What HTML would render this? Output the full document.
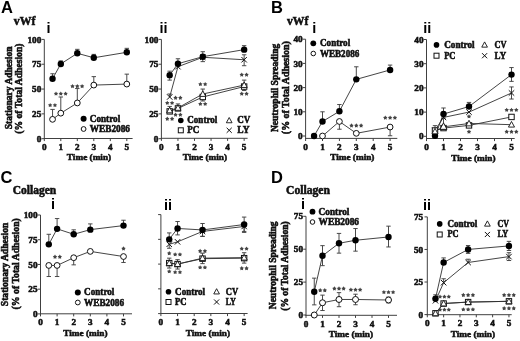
<!DOCTYPE html>
<html><head><meta charset="utf-8"><style>
html,body{margin:0;padding:0;background:#fff;width:520px;height:341px;overflow:hidden}
svg{display:block;will-change:transform;filter:blur(0.35px)}
</style></head><body>
<svg width="520" height="341" viewBox="0 0 520 341">
<rect width="520" height="341" fill="#fff"/>
<text x="1.00" y="12.80" style="font-family:'Liberation Sans',sans-serif;font-weight:bold;font-size:16.5px" fill="#000">A</text>
<text x="271.00" y="12.80" style="font-family:'Liberation Sans',sans-serif;font-weight:bold;font-size:16.5px" fill="#000">B</text>
<text x="0.60" y="182.60" style="font-family:'Liberation Sans',sans-serif;font-weight:bold;font-size:16.5px" fill="#000">C</text>
<text x="271.00" y="182.90" style="font-family:'Liberation Sans',sans-serif;font-weight:bold;font-size:16.5px" fill="#000">D</text>
<text x="13.80" y="24.60" textLength="21.6" lengthAdjust="spacingAndGlyphs" style="font-family:'Liberation Serif',serif;font-weight:bold;font-size:12px" fill="#111" stroke="#111" stroke-width="0.55">vWf</text>
<text x="287.00" y="24.60" textLength="21.4" lengthAdjust="spacingAndGlyphs" style="font-family:'Liberation Serif',serif;font-weight:bold;font-size:12px" fill="#111" stroke="#111" stroke-width="0.55">vWf</text>
<text x="12.70" y="193.80" textLength="43.5" lengthAdjust="spacingAndGlyphs" style="font-family:'Liberation Serif',serif;font-weight:bold;font-size:12px" fill="#111" stroke="#111" stroke-width="0.55">Collagen</text>
<text x="286.00" y="194.20" textLength="44.0" lengthAdjust="spacingAndGlyphs" style="font-family:'Liberation Serif',serif;font-weight:bold;font-size:12px" fill="#111" stroke="#111" stroke-width="0.55">Collagen</text>
<text x="46.60" y="32.60" style="font-family:'Liberation Sans',sans-serif;font-weight:bold;font-size:14.5px" fill="#000">i</text>
<text x="159.40" y="32.80" style="font-family:'Liberation Sans',sans-serif;font-weight:bold;font-size:14.5px" fill="#000">ii</text>
<text x="312.30" y="32.50" style="font-family:'Liberation Sans',sans-serif;font-weight:bold;font-size:14.5px" fill="#000">i</text>
<text x="423.30" y="32.50" style="font-family:'Liberation Sans',sans-serif;font-weight:bold;font-size:14.5px" fill="#000">ii</text>
<text x="51.00" y="208.90" style="font-family:'Liberation Sans',sans-serif;font-weight:bold;font-size:14.5px" fill="#000">i</text>
<text x="163.90" y="209.60" style="font-family:'Liberation Sans',sans-serif;font-weight:bold;font-size:14.5px" fill="#000">ii</text>
<text x="301.00" y="208.90" style="font-family:'Liberation Sans',sans-serif;font-weight:bold;font-size:14.5px" fill="#000">i</text>
<text x="422.90" y="209.90" style="font-family:'Liberation Sans',sans-serif;font-weight:bold;font-size:14.5px" fill="#000">ii</text>
<text x="11.60" y="87.90" text-anchor="middle" textLength="82.7" lengthAdjust="spacingAndGlyphs" transform="rotate(-90 11.6 87.9)" style="font-family:'Liberation Serif',serif;font-weight:bold;font-size:9.5px" fill="#111" stroke="#111" stroke-width="0.55">Stationary Adhesion</text>
<text x="21.80" y="88.60" text-anchor="middle" textLength="90.2" lengthAdjust="spacingAndGlyphs" transform="rotate(-90 21.8 88.6)" style="font-family:'Liberation Serif',serif;font-weight:bold;font-size:9.5px" fill="#111" stroke="#111" stroke-width="0.55">(% of Total Adhesion)</text>
<text x="278.00" y="87.90" text-anchor="middle" textLength="88.2" lengthAdjust="spacingAndGlyphs" transform="rotate(-90 278.0 87.9)" style="font-family:'Liberation Serif',serif;font-weight:bold;font-size:9.5px" fill="#111" stroke="#111" stroke-width="0.55">Neutrophil Spreading</text>
<text x="289.50" y="87.70" text-anchor="middle" textLength="92.9" lengthAdjust="spacingAndGlyphs" transform="rotate(-90 289.5 87.7)" style="font-family:'Liberation Serif',serif;font-weight:bold;font-size:9.5px" fill="#111" stroke="#111" stroke-width="0.55">(% of Total Adhesion)</text>
<text x="8.20" y="264.40" text-anchor="middle" textLength="83.6" lengthAdjust="spacingAndGlyphs" transform="rotate(-90 8.2 264.4)" style="font-family:'Liberation Serif',serif;font-weight:bold;font-size:9.5px" fill="#111" stroke="#111" stroke-width="0.55">Stationary Adhesion</text>
<text x="18.60" y="263.80" text-anchor="middle" textLength="91.2" lengthAdjust="spacingAndGlyphs" transform="rotate(-90 18.6 263.8)" style="font-family:'Liberation Serif',serif;font-weight:bold;font-size:9.5px" fill="#111" stroke="#111" stroke-width="0.55">(% of Total Adhesion)</text>
<text x="275.80" y="265.30" text-anchor="middle" textLength="87.7" lengthAdjust="spacingAndGlyphs" transform="rotate(-90 275.8 265.3)" style="font-family:'Liberation Serif',serif;font-weight:bold;font-size:9.5px" fill="#111" stroke="#111" stroke-width="0.55">Neutrophil Spreading</text>
<text x="287.60" y="266.00" text-anchor="middle" textLength="89.5" lengthAdjust="spacingAndGlyphs" transform="rotate(-90 287.6 266.0)" style="font-family:'Liberation Serif',serif;font-weight:bold;font-size:9.5px" fill="#111" stroke="#111" stroke-width="0.55">(% of Total Adhesion)</text>
<line x1="44.30" y1="39.40" x2="44.30" y2="139.00" stroke="#404040" stroke-width="1"/>
<line x1="41.50" y1="138.70" x2="44.30" y2="138.70" stroke="#404040" stroke-width="1"/>
<text x="41.30" y="141.80" text-anchor="end" style="font-family:'Liberation Serif',serif;font-weight:bold;font-size:9.2px" fill="#111" stroke="#111" stroke-width="0.55">0</text>
<line x1="41.50" y1="113.87" x2="44.30" y2="113.87" stroke="#404040" stroke-width="1"/>
<text x="41.30" y="116.97" text-anchor="end" style="font-family:'Liberation Serif',serif;font-weight:bold;font-size:9.2px" fill="#111" stroke="#111" stroke-width="0.55">25</text>
<line x1="41.50" y1="89.05" x2="44.30" y2="89.05" stroke="#404040" stroke-width="1"/>
<text x="41.30" y="92.15" text-anchor="end" style="font-family:'Liberation Serif',serif;font-weight:bold;font-size:9.2px" fill="#111" stroke="#111" stroke-width="0.55">50</text>
<line x1="41.50" y1="64.22" x2="44.30" y2="64.22" stroke="#404040" stroke-width="1"/>
<text x="41.30" y="67.32" text-anchor="end" style="font-family:'Liberation Serif',serif;font-weight:bold;font-size:9.2px" fill="#111" stroke="#111" stroke-width="0.55">75</text>
<line x1="41.50" y1="39.40" x2="44.30" y2="39.40" stroke="#404040" stroke-width="1"/>
<text x="41.30" y="42.50" text-anchor="end" style="font-family:'Liberation Serif',serif;font-weight:bold;font-size:9.2px" fill="#111" stroke="#111" stroke-width="0.55">100</text>
<line x1="43.80" y1="138.50" x2="132.60" y2="138.50" stroke="#404040" stroke-width="1"/>
<line x1="44.30" y1="138.50" x2="44.30" y2="141.10" stroke="#404040" stroke-width="1"/>
<text x="44.30" y="149.60" text-anchor="middle" style="font-family:'Liberation Serif',serif;font-weight:bold;font-size:9.2px" fill="#111" stroke="#111" stroke-width="0.55">0</text>
<line x1="60.80" y1="138.50" x2="60.80" y2="141.10" stroke="#404040" stroke-width="1"/>
<text x="60.80" y="149.60" text-anchor="middle" style="font-family:'Liberation Serif',serif;font-weight:bold;font-size:9.2px" fill="#111" stroke="#111" stroke-width="0.55">1</text>
<line x1="77.30" y1="138.50" x2="77.30" y2="141.10" stroke="#404040" stroke-width="1"/>
<text x="77.30" y="149.60" text-anchor="middle" style="font-family:'Liberation Serif',serif;font-weight:bold;font-size:9.2px" fill="#111" stroke="#111" stroke-width="0.55">2</text>
<line x1="93.80" y1="138.50" x2="93.80" y2="141.10" stroke="#404040" stroke-width="1"/>
<text x="93.80" y="149.60" text-anchor="middle" style="font-family:'Liberation Serif',serif;font-weight:bold;font-size:9.2px" fill="#111" stroke="#111" stroke-width="0.55">3</text>
<line x1="110.30" y1="138.50" x2="110.30" y2="141.10" stroke="#404040" stroke-width="1"/>
<text x="110.30" y="149.60" text-anchor="middle" style="font-family:'Liberation Serif',serif;font-weight:bold;font-size:9.2px" fill="#111" stroke="#111" stroke-width="0.55">4</text>
<line x1="126.80" y1="138.50" x2="126.80" y2="141.10" stroke="#404040" stroke-width="1"/>
<text x="126.80" y="149.60" text-anchor="middle" style="font-family:'Liberation Serif',serif;font-weight:bold;font-size:9.2px" fill="#111" stroke="#111" stroke-width="0.55">5</text>
<text x="89.00" y="160.20" text-anchor="middle" textLength="44.3" lengthAdjust="spacingAndGlyphs" style="font-family:'Liberation Serif',serif;font-weight:bold;font-size:9.2px" fill="#111" stroke="#111" stroke-width="0.55">Time (min)</text>
<polyline points="52.55,78.72 60.80,63.93 77.30,53.30 93.80,57.77 126.80,52.31" fill="none" stroke="#303030" stroke-width="0.9"/>
<polyline points="52.55,119.34 60.80,113.18 77.30,102.95 93.80,85.08 126.80,84.08" fill="none" stroke="#303030" stroke-width="0.9"/>
<line x1="52.55" y1="78.72" x2="52.55" y2="73.76" stroke="#404040" stroke-width="0.95"/>
<line x1="50.35" y1="73.76" x2="54.75" y2="73.76" stroke="#404040" stroke-width="0.95"/>
<line x1="60.80" y1="63.93" x2="60.80" y2="60.95" stroke="#404040" stroke-width="0.95"/>
<line x1="58.60" y1="60.95" x2="63.00" y2="60.95" stroke="#404040" stroke-width="0.95"/>
<line x1="77.30" y1="53.30" x2="77.30" y2="49.33" stroke="#404040" stroke-width="0.95"/>
<line x1="75.10" y1="49.33" x2="79.50" y2="49.33" stroke="#404040" stroke-width="0.95"/>
<line x1="93.80" y1="57.77" x2="93.80" y2="54.39" stroke="#404040" stroke-width="0.95"/>
<line x1="91.60" y1="54.39" x2="96.00" y2="54.39" stroke="#404040" stroke-width="0.95"/>
<line x1="126.80" y1="52.31" x2="126.80" y2="48.34" stroke="#404040" stroke-width="0.95"/>
<line x1="124.60" y1="48.34" x2="129.00" y2="48.34" stroke="#404040" stroke-width="0.95"/>
<line x1="52.55" y1="119.34" x2="52.55" y2="109.41" stroke="#404040" stroke-width="0.95"/>
<line x1="50.35" y1="109.41" x2="54.75" y2="109.41" stroke="#404040" stroke-width="0.95"/>
<line x1="60.80" y1="113.18" x2="60.80" y2="96.99" stroke="#404040" stroke-width="0.95"/>
<line x1="58.60" y1="96.99" x2="63.00" y2="96.99" stroke="#404040" stroke-width="0.95"/>
<line x1="77.30" y1="102.95" x2="77.30" y2="88.55" stroke="#404040" stroke-width="0.95"/>
<line x1="75.10" y1="88.55" x2="79.50" y2="88.55" stroke="#404040" stroke-width="0.95"/>
<line x1="93.80" y1="85.08" x2="93.80" y2="76.64" stroke="#404040" stroke-width="0.95"/>
<line x1="91.60" y1="76.64" x2="96.00" y2="76.64" stroke="#404040" stroke-width="0.95"/>
<line x1="126.80" y1="84.08" x2="126.80" y2="74.15" stroke="#404040" stroke-width="0.95"/>
<line x1="124.60" y1="74.15" x2="129.00" y2="74.15" stroke="#404040" stroke-width="0.95"/>
<circle cx="52.55" cy="78.72" r="3.2" fill="#000"/>
<circle cx="60.80" cy="63.93" r="3.2" fill="#000"/>
<circle cx="77.30" cy="53.30" r="3.2" fill="#000"/>
<circle cx="93.80" cy="57.77" r="3.2" fill="#000"/>
<circle cx="126.80" cy="52.31" r="3.2" fill="#000"/>
<circle cx="52.55" cy="119.34" r="2.9" fill="#fff" stroke="#111" stroke-width="1"/>
<circle cx="60.80" cy="113.18" r="2.9" fill="#fff" stroke="#111" stroke-width="1"/>
<circle cx="77.30" cy="102.95" r="2.9" fill="#fff" stroke="#111" stroke-width="1"/>
<circle cx="93.80" cy="85.08" r="2.9" fill="#fff" stroke="#111" stroke-width="1"/>
<circle cx="126.80" cy="84.08" r="2.9" fill="#fff" stroke="#111" stroke-width="1"/>
<path d="M50.15,102.90 L50.91,104.15 L52.34,104.49 L51.39,105.60 L51.50,107.06 L50.15,106.50 L48.80,107.06 L48.91,105.60 L47.96,104.49 L49.39,104.15ZM54.95,102.90 L55.71,104.15 L57.14,104.49 L56.19,105.60 L56.30,107.06 L54.95,106.50 L53.60,107.06 L53.71,105.60 L52.76,104.49 L54.19,104.15Z" fill="#444"/>
<path d="M56.00,91.40 L56.76,92.65 L58.19,92.99 L57.24,94.10 L57.35,95.56 L56.00,95.00 L54.65,95.56 L54.76,94.10 L53.81,92.99 L55.24,92.65ZM60.80,91.40 L61.56,92.65 L62.99,92.99 L62.04,94.10 L62.15,95.56 L60.80,95.00 L59.45,95.56 L59.56,94.10 L58.61,92.99 L60.04,92.65ZM65.60,91.40 L66.36,92.65 L67.79,92.99 L66.84,94.10 L66.95,95.56 L65.60,95.00 L64.25,95.56 L64.36,94.10 L63.41,92.99 L64.84,92.65Z" fill="#444"/>
<path d="M72.50,84.00 L73.26,85.25 L74.69,85.59 L73.74,86.70 L73.85,88.16 L72.50,87.60 L71.15,88.16 L71.26,86.70 L70.31,85.59 L71.74,85.25ZM77.30,84.00 L78.06,85.25 L79.49,85.59 L78.54,86.70 L78.65,88.16 L77.30,87.60 L75.95,88.16 L76.06,86.70 L75.11,85.59 L76.54,85.25ZM82.10,84.00 L82.86,85.25 L84.29,85.59 L83.34,86.70 L83.45,88.16 L82.10,87.60 L80.75,88.16 L80.86,86.70 L79.91,85.59 L81.34,85.25Z" fill="#444"/>
<circle cx="83.60" cy="118.70" r="3.0" fill="#000"/>
<text x="89.80" y="121.50" textLength="30.4" lengthAdjust="spacingAndGlyphs" style="font-family:'Liberation Serif',serif;font-weight:bold;font-size:9.3px" fill="#111" stroke="#111" stroke-width="0.55">Control</text>
<circle cx="83.60" cy="129.00" r="2.4" fill="#fff" stroke="#111" stroke-width="1"/>
<text x="89.80" y="131.70" textLength="40.2" lengthAdjust="spacingAndGlyphs" style="font-family:'Liberation Serif',serif;font-weight:bold;font-size:9.3px" fill="#111" stroke="#111" stroke-width="0.55">WEB2086</text>
<line x1="161.40" y1="39.40" x2="161.40" y2="138.80" stroke="#404040" stroke-width="1"/>
<line x1="158.60" y1="138.70" x2="161.40" y2="138.70" stroke="#404040" stroke-width="1"/>
<text x="158.40" y="141.80" text-anchor="end" style="font-family:'Liberation Serif',serif;font-weight:bold;font-size:9.2px" fill="#111" stroke="#111" stroke-width="0.55">0</text>
<line x1="158.60" y1="113.87" x2="161.40" y2="113.87" stroke="#404040" stroke-width="1"/>
<text x="158.40" y="116.97" text-anchor="end" style="font-family:'Liberation Serif',serif;font-weight:bold;font-size:9.2px" fill="#111" stroke="#111" stroke-width="0.55">25</text>
<line x1="158.60" y1="89.05" x2="161.40" y2="89.05" stroke="#404040" stroke-width="1"/>
<text x="158.40" y="92.15" text-anchor="end" style="font-family:'Liberation Serif',serif;font-weight:bold;font-size:9.2px" fill="#111" stroke="#111" stroke-width="0.55">50</text>
<line x1="158.60" y1="64.22" x2="161.40" y2="64.22" stroke="#404040" stroke-width="1"/>
<text x="158.40" y="67.32" text-anchor="end" style="font-family:'Liberation Serif',serif;font-weight:bold;font-size:9.2px" fill="#111" stroke="#111" stroke-width="0.55">75</text>
<line x1="158.60" y1="39.40" x2="161.40" y2="39.40" stroke="#404040" stroke-width="1"/>
<text x="158.40" y="42.50" text-anchor="end" style="font-family:'Liberation Serif',serif;font-weight:bold;font-size:9.2px" fill="#111" stroke="#111" stroke-width="0.55">100</text>
<line x1="160.90" y1="138.30" x2="247.60" y2="138.30" stroke="#404040" stroke-width="1"/>
<line x1="161.40" y1="138.30" x2="161.40" y2="140.90" stroke="#404040" stroke-width="1"/>
<text x="161.40" y="149.60" text-anchor="middle" style="font-family:'Liberation Serif',serif;font-weight:bold;font-size:9.2px" fill="#111" stroke="#111" stroke-width="0.55">0</text>
<line x1="177.95" y1="138.30" x2="177.95" y2="140.90" stroke="#404040" stroke-width="1"/>
<text x="177.95" y="149.60" text-anchor="middle" style="font-family:'Liberation Serif',serif;font-weight:bold;font-size:9.2px" fill="#111" stroke="#111" stroke-width="0.55">1</text>
<line x1="194.50" y1="138.30" x2="194.50" y2="140.90" stroke="#404040" stroke-width="1"/>
<text x="194.50" y="149.60" text-anchor="middle" style="font-family:'Liberation Serif',serif;font-weight:bold;font-size:9.2px" fill="#111" stroke="#111" stroke-width="0.55">2</text>
<line x1="211.05" y1="138.30" x2="211.05" y2="140.90" stroke="#404040" stroke-width="1"/>
<text x="211.05" y="149.60" text-anchor="middle" style="font-family:'Liberation Serif',serif;font-weight:bold;font-size:9.2px" fill="#111" stroke="#111" stroke-width="0.55">3</text>
<line x1="227.60" y1="138.30" x2="227.60" y2="140.90" stroke="#404040" stroke-width="1"/>
<text x="227.60" y="149.60" text-anchor="middle" style="font-family:'Liberation Serif',serif;font-weight:bold;font-size:9.2px" fill="#111" stroke="#111" stroke-width="0.55">4</text>
<line x1="244.15" y1="138.30" x2="244.15" y2="140.90" stroke="#404040" stroke-width="1"/>
<text x="244.15" y="149.60" text-anchor="middle" style="font-family:'Liberation Serif',serif;font-weight:bold;font-size:9.2px" fill="#111" stroke="#111" stroke-width="0.55">5</text>
<text x="204.90" y="160.20" text-anchor="middle" textLength="44.3" lengthAdjust="spacingAndGlyphs" style="font-family:'Liberation Serif',serif;font-weight:bold;font-size:9.2px" fill="#111" stroke="#111" stroke-width="0.55">Time (min)</text>
<polyline points="169.68,96.99 177.95,66.71 202.78,57.27 244.15,59.76" fill="none" stroke="#303030" stroke-width="0.9"/>
<polyline points="169.68,75.15 177.95,63.73 202.78,56.68 244.15,49.63" fill="none" stroke="#303030" stroke-width="0.9"/>
<polyline points="169.68,110.40 177.95,107.92 202.78,94.01 244.15,85.08" fill="none" stroke="#303030" stroke-width="0.9"/>
<polyline points="169.68,111.39 177.95,108.41 202.78,96.99 244.15,86.57" fill="none" stroke="#303030" stroke-width="0.9"/>
<line x1="169.68" y1="75.15" x2="169.68" y2="71.18" stroke="#404040" stroke-width="0.95"/>
<line x1="167.48" y1="71.18" x2="171.88" y2="71.18" stroke="#404040" stroke-width="0.95"/>
<line x1="177.95" y1="63.73" x2="177.95" y2="58.76" stroke="#404040" stroke-width="0.95"/>
<line x1="175.75" y1="58.76" x2="180.15" y2="58.76" stroke="#404040" stroke-width="0.95"/>
<line x1="202.78" y1="56.68" x2="202.78" y2="51.71" stroke="#404040" stroke-width="0.95"/>
<line x1="200.58" y1="51.71" x2="204.97" y2="51.71" stroke="#404040" stroke-width="0.95"/>
<line x1="244.15" y1="49.63" x2="244.15" y2="45.66" stroke="#404040" stroke-width="0.95"/>
<line x1="241.95" y1="45.66" x2="246.35" y2="45.66" stroke="#404040" stroke-width="0.95"/>
<line x1="169.68" y1="75.15" x2="169.68" y2="80.11" stroke="#404040" stroke-width="0.95"/>
<line x1="167.48" y1="80.11" x2="171.88" y2="80.11" stroke="#404040" stroke-width="0.95"/>
<line x1="202.78" y1="56.68" x2="202.78" y2="61.64" stroke="#404040" stroke-width="0.95"/>
<line x1="200.58" y1="61.64" x2="204.97" y2="61.64" stroke="#404040" stroke-width="0.95"/>
<line x1="244.15" y1="59.76" x2="244.15" y2="54.79" stroke="#404040" stroke-width="0.95"/>
<line x1="241.95" y1="54.79" x2="246.35" y2="54.79" stroke="#404040" stroke-width="0.95"/>
<line x1="244.15" y1="59.76" x2="244.15" y2="65.71" stroke="#404040" stroke-width="0.95"/>
<line x1="241.95" y1="65.71" x2="246.35" y2="65.71" stroke="#404040" stroke-width="0.95"/>
<line x1="169.68" y1="96.99" x2="169.68" y2="94.01" stroke="#404040" stroke-width="0.95"/>
<line x1="167.48" y1="94.01" x2="171.88" y2="94.01" stroke="#404040" stroke-width="0.95"/>
<line x1="169.68" y1="110.40" x2="169.68" y2="106.43" stroke="#404040" stroke-width="0.95"/>
<line x1="167.48" y1="106.43" x2="171.88" y2="106.43" stroke="#404040" stroke-width="0.95"/>
<line x1="177.95" y1="107.92" x2="177.95" y2="103.94" stroke="#404040" stroke-width="0.95"/>
<line x1="175.75" y1="103.94" x2="180.15" y2="103.94" stroke="#404040" stroke-width="0.95"/>
<line x1="202.78" y1="94.01" x2="202.78" y2="89.05" stroke="#404040" stroke-width="0.95"/>
<line x1="200.58" y1="89.05" x2="204.97" y2="89.05" stroke="#404040" stroke-width="0.95"/>
<line x1="244.15" y1="85.08" x2="244.15" y2="80.11" stroke="#404040" stroke-width="0.95"/>
<line x1="241.95" y1="80.11" x2="246.35" y2="80.11" stroke="#404040" stroke-width="0.95"/>
<line x1="202.78" y1="96.99" x2="202.78" y2="100.97" stroke="#404040" stroke-width="0.95"/>
<line x1="200.58" y1="100.97" x2="204.97" y2="100.97" stroke="#404040" stroke-width="0.95"/>
<line x1="244.15" y1="86.57" x2="244.15" y2="90.54" stroke="#404040" stroke-width="0.95"/>
<line x1="241.95" y1="90.54" x2="246.35" y2="90.54" stroke="#404040" stroke-width="0.95"/>
<path d="M166.96,94.27 L172.40,99.71 M172.40,94.27 L166.96,99.71" stroke="#111" stroke-width="1" fill="none"/>
<path d="M175.23,63.99 L180.67,69.43 M180.67,63.99 L175.23,69.43" stroke="#111" stroke-width="1" fill="none"/>
<path d="M200.06,54.55 L205.50,59.99 M205.50,54.55 L200.06,59.99" stroke="#111" stroke-width="1" fill="none"/>
<path d="M241.43,57.04 L246.87,62.48 M246.87,57.04 L241.43,62.48" stroke="#111" stroke-width="1" fill="none"/>
<circle cx="169.68" cy="75.15" r="3.2" fill="#000"/>
<circle cx="177.95" cy="63.73" r="3.2" fill="#000"/>
<circle cx="202.78" cy="56.68" r="3.2" fill="#000"/>
<circle cx="244.15" cy="49.63" r="3.2" fill="#000"/>
<rect x="166.98" y="108.69" width="5.40" height="5.40" fill="#fff" stroke="#111" stroke-width="1"/>
<rect x="175.25" y="105.71" width="5.40" height="5.40" fill="#fff" stroke="#111" stroke-width="1"/>
<rect x="200.08" y="94.29" width="5.40" height="5.40" fill="#fff" stroke="#111" stroke-width="1"/>
<rect x="241.45" y="83.87" width="5.40" height="5.40" fill="#fff" stroke="#111" stroke-width="1"/>
<path d="M169.68,107.20 L172.72,112.80 L166.64,112.80 Z" fill="#fff" stroke="#111" stroke-width="0.9"/>
<path d="M177.95,104.72 L180.99,110.32 L174.91,110.32 Z" fill="#fff" stroke="#111" stroke-width="0.9"/>
<path d="M202.78,90.81 L205.81,96.41 L199.74,96.41 Z" fill="#fff" stroke="#111" stroke-width="0.9"/>
<path d="M244.15,81.88 L247.19,87.48 L241.11,87.48 Z" fill="#fff" stroke="#111" stroke-width="0.9"/>
<path d="M167.28,100.70 L168.04,101.95 L169.46,102.29 L168.51,103.40 L168.63,104.86 L167.28,104.30 L165.92,104.86 L166.04,103.40 L165.09,102.29 L166.51,101.95ZM172.08,100.70 L172.84,101.95 L174.26,102.29 L173.31,103.40 L173.43,104.86 L172.08,104.30 L170.72,104.86 L170.84,103.40 L169.89,102.29 L171.31,101.95Z" fill="#444"/>
<path d="M175.55,95.60 L176.31,96.85 L177.74,97.19 L176.79,98.30 L176.90,99.76 L175.55,99.20 L174.20,99.76 L174.31,98.30 L173.36,97.19 L174.79,96.85ZM180.35,95.60 L181.11,96.85 L182.54,97.19 L181.59,98.30 L181.70,99.76 L180.35,99.20 L179.00,99.76 L179.11,98.30 L178.16,97.19 L179.59,96.85Z" fill="#444"/>
<path d="M167.28,116.60 L168.04,117.85 L169.46,118.19 L168.51,119.30 L168.63,120.76 L167.28,120.20 L165.92,120.76 L166.04,119.30 L165.09,118.19 L166.51,117.85ZM172.08,116.60 L172.84,117.85 L174.26,118.19 L173.31,119.30 L173.43,120.76 L172.08,120.20 L170.72,120.76 L170.84,119.30 L169.89,118.19 L171.31,117.85Z" fill="#444"/>
<path d="M175.55,112.50 L176.31,113.75 L177.74,114.09 L176.79,115.20 L176.90,116.66 L175.55,116.10 L174.20,116.66 L174.31,115.20 L173.36,114.09 L174.79,113.75ZM180.35,112.50 L181.11,113.75 L182.54,114.09 L181.59,115.20 L181.70,116.66 L180.35,116.10 L179.00,116.66 L179.11,115.20 L178.16,114.09 L179.59,113.75Z" fill="#444"/>
<path d="M200.38,81.90 L201.14,83.15 L202.56,83.49 L201.61,84.60 L201.73,86.06 L200.38,85.50 L199.02,86.06 L199.14,84.60 L198.19,83.49 L199.61,83.15ZM205.18,81.90 L205.94,83.15 L207.36,83.49 L206.41,84.60 L206.53,86.06 L205.18,85.50 L203.82,86.06 L203.94,84.60 L202.99,83.49 L204.41,83.15Z" fill="#444"/>
<path d="M200.38,101.70 L201.14,102.95 L202.56,103.29 L201.61,104.40 L201.73,105.86 L200.38,105.30 L199.02,105.86 L199.14,104.40 L198.19,103.29 L199.61,102.95ZM205.18,101.70 L205.94,102.95 L207.36,103.29 L206.41,104.40 L206.53,105.86 L205.18,105.30 L203.82,105.86 L203.94,104.40 L202.99,103.29 L204.41,102.95Z" fill="#444"/>
<path d="M241.75,72.50 L242.51,73.75 L243.94,74.09 L242.99,75.20 L243.10,76.66 L241.75,76.10 L240.40,76.66 L240.51,75.20 L239.56,74.09 L240.99,73.75ZM246.55,72.50 L247.31,73.75 L248.74,74.09 L247.79,75.20 L247.90,76.66 L246.55,76.10 L245.20,76.66 L245.31,75.20 L244.36,74.09 L245.79,73.75Z" fill="#444"/>
<path d="M241.75,91.50 L242.51,92.75 L243.94,93.09 L242.99,94.20 L243.10,95.66 L241.75,95.10 L240.40,95.66 L240.51,94.20 L239.56,93.09 L240.99,92.75ZM246.55,91.50 L247.31,92.75 L248.74,93.09 L247.79,94.20 L247.90,95.66 L246.55,95.10 L245.20,95.66 L245.31,94.20 L244.36,93.09 L245.79,92.75Z" fill="#444"/>
<circle cx="180.80" cy="120.50" r="2.8" fill="#000"/>
<text x="187.30" y="123.10" textLength="30.0" lengthAdjust="spacingAndGlyphs" style="font-family:'Liberation Serif',serif;font-weight:bold;font-size:9.3px" fill="#111" stroke="#111" stroke-width="0.55">Control</text>
<path d="M229.20,117.50 L232.05,122.75 L226.35,122.75 Z" fill="#fff" stroke="#111" stroke-width="0.9"/>
<text x="237.30" y="123.10" textLength="13.1" lengthAdjust="spacingAndGlyphs" style="font-family:'Liberation Serif',serif;font-weight:bold;font-size:9.3px" fill="#111" stroke="#111" stroke-width="0.55">CV</text>
<rect x="178.30" y="127.80" width="5.00" height="5.00" fill="#fff" stroke="#111" stroke-width="1"/>
<text x="187.30" y="133.40" textLength="12.0" lengthAdjust="spacingAndGlyphs" style="font-family:'Liberation Serif',serif;font-weight:bold;font-size:9.3px" fill="#111" stroke="#111" stroke-width="0.55">PC</text>
<path d="M226.65,127.75 L231.75,132.85 M231.75,127.75 L226.65,132.85" stroke="#111" stroke-width="1" fill="none"/>
<text x="237.30" y="133.40" textLength="12.3" lengthAdjust="spacingAndGlyphs" style="font-family:'Liberation Serif',serif;font-weight:bold;font-size:9.3px" fill="#111" stroke="#111" stroke-width="0.55">LY</text>
<line x1="305.60" y1="39.20" x2="305.60" y2="138.90" stroke="#404040" stroke-width="1"/>
<line x1="302.80" y1="136.00" x2="305.60" y2="136.00" stroke="#404040" stroke-width="1"/>
<text x="302.60" y="139.10" text-anchor="end" style="font-family:'Liberation Serif',serif;font-weight:bold;font-size:9.2px" fill="#111" stroke="#111" stroke-width="0.55">0</text>
<line x1="302.80" y1="111.80" x2="305.60" y2="111.80" stroke="#404040" stroke-width="1"/>
<text x="302.60" y="114.90" text-anchor="end" style="font-family:'Liberation Serif',serif;font-weight:bold;font-size:9.2px" fill="#111" stroke="#111" stroke-width="0.55">10</text>
<line x1="302.80" y1="87.60" x2="305.60" y2="87.60" stroke="#404040" stroke-width="1"/>
<text x="302.60" y="90.70" text-anchor="end" style="font-family:'Liberation Serif',serif;font-weight:bold;font-size:9.2px" fill="#111" stroke="#111" stroke-width="0.55">20</text>
<line x1="302.80" y1="63.40" x2="305.60" y2="63.40" stroke="#404040" stroke-width="1"/>
<text x="302.60" y="66.50" text-anchor="end" style="font-family:'Liberation Serif',serif;font-weight:bold;font-size:9.2px" fill="#111" stroke="#111" stroke-width="0.55">30</text>
<line x1="302.80" y1="39.20" x2="305.60" y2="39.20" stroke="#404040" stroke-width="1"/>
<text x="302.60" y="42.30" text-anchor="end" style="font-family:'Liberation Serif',serif;font-weight:bold;font-size:9.2px" fill="#111" stroke="#111" stroke-width="0.55">40</text>
<line x1="305.10" y1="138.40" x2="397.30" y2="138.40" stroke="#404040" stroke-width="1"/>
<line x1="305.60" y1="138.40" x2="305.60" y2="141.00" stroke="#404040" stroke-width="1"/>
<text x="305.60" y="149.60" text-anchor="middle" style="font-family:'Liberation Serif',serif;font-weight:bold;font-size:9.2px" fill="#111" stroke="#111" stroke-width="0.55">0</text>
<line x1="322.50" y1="138.40" x2="322.50" y2="141.00" stroke="#404040" stroke-width="1"/>
<text x="322.50" y="149.60" text-anchor="middle" style="font-family:'Liberation Serif',serif;font-weight:bold;font-size:9.2px" fill="#111" stroke="#111" stroke-width="0.55">1</text>
<line x1="339.40" y1="138.40" x2="339.40" y2="141.00" stroke="#404040" stroke-width="1"/>
<text x="339.40" y="149.60" text-anchor="middle" style="font-family:'Liberation Serif',serif;font-weight:bold;font-size:9.2px" fill="#111" stroke="#111" stroke-width="0.55">2</text>
<line x1="356.30" y1="138.40" x2="356.30" y2="141.00" stroke="#404040" stroke-width="1"/>
<text x="356.30" y="149.60" text-anchor="middle" style="font-family:'Liberation Serif',serif;font-weight:bold;font-size:9.2px" fill="#111" stroke="#111" stroke-width="0.55">3</text>
<line x1="373.20" y1="138.40" x2="373.20" y2="141.00" stroke="#404040" stroke-width="1"/>
<text x="373.20" y="149.60" text-anchor="middle" style="font-family:'Liberation Serif',serif;font-weight:bold;font-size:9.2px" fill="#111" stroke="#111" stroke-width="0.55">4</text>
<line x1="390.10" y1="138.40" x2="390.10" y2="141.00" stroke="#404040" stroke-width="1"/>
<text x="390.10" y="149.60" text-anchor="middle" style="font-family:'Liberation Serif',serif;font-weight:bold;font-size:9.2px" fill="#111" stroke="#111" stroke-width="0.55">5</text>
<text x="352.30" y="160.40" text-anchor="middle" textLength="44.3" lengthAdjust="spacingAndGlyphs" style="font-family:'Liberation Serif',serif;font-weight:bold;font-size:9.2px" fill="#111" stroke="#111" stroke-width="0.55">Time (min)</text>
<polyline points="314.05,136.00 322.50,121.48 339.40,111.32 356.30,79.37 390.10,69.93" fill="none" stroke="#303030" stroke-width="0.9"/>
<polyline points="322.50,136.00 339.40,121.48 356.30,133.34 390.10,127.05" fill="none" stroke="#303030" stroke-width="0.9"/>
<line x1="322.50" y1="121.48" x2="322.50" y2="111.80" stroke="#404040" stroke-width="0.95"/>
<line x1="320.30" y1="111.80" x2="324.70" y2="111.80" stroke="#404040" stroke-width="0.95"/>
<line x1="339.40" y1="111.32" x2="339.40" y2="104.54" stroke="#404040" stroke-width="0.95"/>
<line x1="337.20" y1="104.54" x2="341.60" y2="104.54" stroke="#404040" stroke-width="0.95"/>
<line x1="356.30" y1="79.37" x2="356.30" y2="66.79" stroke="#404040" stroke-width="0.95"/>
<line x1="354.10" y1="66.79" x2="358.50" y2="66.79" stroke="#404040" stroke-width="0.95"/>
<line x1="390.10" y1="69.93" x2="390.10" y2="65.09" stroke="#404040" stroke-width="0.95"/>
<line x1="387.90" y1="65.09" x2="392.30" y2="65.09" stroke="#404040" stroke-width="0.95"/>
<line x1="339.40" y1="121.48" x2="339.40" y2="129.22" stroke="#404040" stroke-width="0.95"/>
<line x1="337.20" y1="129.22" x2="341.60" y2="129.22" stroke="#404040" stroke-width="0.95"/>
<line x1="390.10" y1="127.05" x2="390.10" y2="135.76" stroke="#404040" stroke-width="0.95"/>
<line x1="387.90" y1="135.76" x2="392.30" y2="135.76" stroke="#404040" stroke-width="0.95"/>
<circle cx="314.05" cy="136.00" r="3.2" fill="#000"/>
<circle cx="322.50" cy="121.48" r="3.2" fill="#000"/>
<circle cx="339.40" cy="111.32" r="3.2" fill="#000"/>
<circle cx="356.30" cy="79.37" r="3.2" fill="#000"/>
<circle cx="390.10" cy="69.93" r="3.2" fill="#000"/>
<circle cx="322.50" cy="136.00" r="2.9" fill="#fff" stroke="#111" stroke-width="1"/>
<circle cx="339.40" cy="121.48" r="2.9" fill="#fff" stroke="#111" stroke-width="1"/>
<circle cx="356.30" cy="133.34" r="2.9" fill="#fff" stroke="#111" stroke-width="1"/>
<circle cx="390.10" cy="127.05" r="2.9" fill="#fff" stroke="#111" stroke-width="1"/>
<path d="M351.50,123.30 L352.26,124.55 L353.69,124.89 L352.74,126.00 L352.85,127.46 L351.50,126.90 L350.15,127.46 L350.26,126.00 L349.31,124.89 L350.74,124.55ZM356.30,123.30 L357.06,124.55 L358.49,124.89 L357.54,126.00 L357.65,127.46 L356.30,126.90 L354.95,127.46 L355.06,126.00 L354.11,124.89 L355.54,124.55ZM361.10,123.30 L361.86,124.55 L363.29,124.89 L362.34,126.00 L362.45,127.46 L361.10,126.90 L359.75,127.46 L359.86,126.00 L358.91,124.89 L360.34,124.55Z" fill="#444"/>
<path d="M385.30,115.50 L386.06,116.75 L387.49,117.09 L386.54,118.20 L386.65,119.66 L385.30,119.10 L383.95,119.66 L384.06,118.20 L383.11,117.09 L384.54,116.75ZM390.10,115.50 L390.86,116.75 L392.29,117.09 L391.34,118.20 L391.45,119.66 L390.10,119.10 L388.75,119.66 L388.86,118.20 L387.91,117.09 L389.34,116.75ZM394.90,115.50 L395.66,116.75 L397.09,117.09 L396.14,118.20 L396.25,119.66 L394.90,119.10 L393.55,119.66 L393.66,118.20 L392.71,117.09 L394.14,116.75Z" fill="#444"/>
<circle cx="313.30" cy="43.30" r="2.9000000000000004" fill="#000"/>
<text x="320.00" y="46.30" textLength="30.2" lengthAdjust="spacingAndGlyphs" style="font-family:'Liberation Serif',serif;font-weight:bold;font-size:9.3px" fill="#111" stroke="#111" stroke-width="0.55">Control</text>
<circle cx="313.30" cy="53.50" r="2.3000000000000003" fill="#fff" stroke="#111" stroke-width="1"/>
<text x="320.00" y="56.70" textLength="39.2" lengthAdjust="spacingAndGlyphs" style="font-family:'Liberation Serif',serif;font-weight:bold;font-size:9.3px" fill="#111" stroke="#111" stroke-width="0.55">WEB2086</text>
<line x1="426.50" y1="39.50" x2="426.50" y2="139.00" stroke="#404040" stroke-width="1"/>
<line x1="423.70" y1="136.30" x2="426.50" y2="136.30" stroke="#404040" stroke-width="1"/>
<text x="423.50" y="139.40" text-anchor="end" style="font-family:'Liberation Serif',serif;font-weight:bold;font-size:9.2px" fill="#111" stroke="#111" stroke-width="0.55">0</text>
<line x1="423.70" y1="112.10" x2="426.50" y2="112.10" stroke="#404040" stroke-width="1"/>
<text x="423.50" y="115.20" text-anchor="end" style="font-family:'Liberation Serif',serif;font-weight:bold;font-size:9.2px" fill="#111" stroke="#111" stroke-width="0.55">10</text>
<line x1="423.70" y1="87.90" x2="426.50" y2="87.90" stroke="#404040" stroke-width="1"/>
<text x="423.50" y="91.00" text-anchor="end" style="font-family:'Liberation Serif',serif;font-weight:bold;font-size:9.2px" fill="#111" stroke="#111" stroke-width="0.55">20</text>
<line x1="423.70" y1="63.70" x2="426.50" y2="63.70" stroke="#404040" stroke-width="1"/>
<text x="423.50" y="66.80" text-anchor="end" style="font-family:'Liberation Serif',serif;font-weight:bold;font-size:9.2px" fill="#111" stroke="#111" stroke-width="0.55">30</text>
<line x1="423.70" y1="39.50" x2="426.50" y2="39.50" stroke="#404040" stroke-width="1"/>
<text x="423.50" y="42.60" text-anchor="end" style="font-family:'Liberation Serif',serif;font-weight:bold;font-size:9.2px" fill="#111" stroke="#111" stroke-width="0.55">40</text>
<line x1="426.00" y1="138.50" x2="514.70" y2="138.50" stroke="#404040" stroke-width="1"/>
<line x1="426.50" y1="138.50" x2="426.50" y2="141.10" stroke="#404040" stroke-width="1"/>
<text x="426.50" y="149.60" text-anchor="middle" style="font-family:'Liberation Serif',serif;font-weight:bold;font-size:9.2px" fill="#111" stroke="#111" stroke-width="0.55">0</text>
<line x1="443.50" y1="138.50" x2="443.50" y2="141.10" stroke="#404040" stroke-width="1"/>
<text x="443.50" y="149.60" text-anchor="middle" style="font-family:'Liberation Serif',serif;font-weight:bold;font-size:9.2px" fill="#111" stroke="#111" stroke-width="0.55">1</text>
<line x1="460.50" y1="138.50" x2="460.50" y2="141.10" stroke="#404040" stroke-width="1"/>
<text x="460.50" y="149.60" text-anchor="middle" style="font-family:'Liberation Serif',serif;font-weight:bold;font-size:9.2px" fill="#111" stroke="#111" stroke-width="0.55">2</text>
<line x1="477.50" y1="138.50" x2="477.50" y2="141.10" stroke="#404040" stroke-width="1"/>
<text x="477.50" y="149.60" text-anchor="middle" style="font-family:'Liberation Serif',serif;font-weight:bold;font-size:9.2px" fill="#111" stroke="#111" stroke-width="0.55">3</text>
<line x1="494.50" y1="138.50" x2="494.50" y2="141.10" stroke="#404040" stroke-width="1"/>
<text x="494.50" y="149.60" text-anchor="middle" style="font-family:'Liberation Serif',serif;font-weight:bold;font-size:9.2px" fill="#111" stroke="#111" stroke-width="0.55">4</text>
<line x1="511.50" y1="138.50" x2="511.50" y2="141.10" stroke="#404040" stroke-width="1"/>
<text x="511.50" y="149.60" text-anchor="middle" style="font-family:'Liberation Serif',serif;font-weight:bold;font-size:9.2px" fill="#111" stroke="#111" stroke-width="0.55">5</text>
<text x="473.40" y="160.60" text-anchor="middle" textLength="44.3" lengthAdjust="spacingAndGlyphs" style="font-family:'Liberation Serif',serif;font-weight:bold;font-size:9.2px" fill="#111" stroke="#111" stroke-width="0.55">Time (min)</text>
<polyline points="435.00,130.25 443.50,117.42 469.00,112.10 511.50,92.98" fill="none" stroke="#303030" stroke-width="0.9"/>
<polyline points="435.00,135.82 443.50,114.04 469.00,106.53 511.50,74.59" fill="none" stroke="#303030" stroke-width="0.9"/>
<polyline points="435.00,131.46 443.50,126.86 469.00,123.47 511.50,124.68" fill="none" stroke="#303030" stroke-width="0.9"/>
<polyline points="435.00,130.49 443.50,128.07 469.00,125.41 511.50,116.94" fill="none" stroke="#303030" stroke-width="0.9"/>
<line x1="443.50" y1="114.04" x2="443.50" y2="107.99" stroke="#404040" stroke-width="0.95"/>
<line x1="441.30" y1="107.99" x2="445.70" y2="107.99" stroke="#404040" stroke-width="0.95"/>
<line x1="469.00" y1="106.53" x2="469.00" y2="102.42" stroke="#404040" stroke-width="0.95"/>
<line x1="466.80" y1="102.42" x2="471.20" y2="102.42" stroke="#404040" stroke-width="0.95"/>
<line x1="511.50" y1="74.59" x2="511.50" y2="67.57" stroke="#404040" stroke-width="0.95"/>
<line x1="509.30" y1="67.57" x2="513.70" y2="67.57" stroke="#404040" stroke-width="0.95"/>
<line x1="511.50" y1="74.59" x2="511.50" y2="81.37" stroke="#404040" stroke-width="0.95"/>
<line x1="509.30" y1="81.37" x2="513.70" y2="81.37" stroke="#404040" stroke-width="0.95"/>
<line x1="511.50" y1="92.98" x2="511.50" y2="86.93" stroke="#404040" stroke-width="0.95"/>
<line x1="509.30" y1="86.93" x2="513.70" y2="86.93" stroke="#404040" stroke-width="0.95"/>
<line x1="511.50" y1="92.98" x2="511.50" y2="99.03" stroke="#404040" stroke-width="0.95"/>
<line x1="509.30" y1="99.03" x2="513.70" y2="99.03" stroke="#404040" stroke-width="0.95"/>
<line x1="435.00" y1="130.49" x2="435.00" y2="125.65" stroke="#404040" stroke-width="0.95"/>
<line x1="432.80" y1="125.65" x2="437.20" y2="125.65" stroke="#404040" stroke-width="0.95"/>
<line x1="443.50" y1="126.86" x2="443.50" y2="118.15" stroke="#404040" stroke-width="0.95"/>
<line x1="441.30" y1="118.15" x2="445.70" y2="118.15" stroke="#404040" stroke-width="0.95"/>
<path d="M432.28,127.53 L437.72,132.97 M437.72,127.53 L432.28,132.97" stroke="#111" stroke-width="1" fill="none"/>
<path d="M440.78,114.70 L446.22,120.14 M446.22,114.70 L440.78,120.14" stroke="#111" stroke-width="1" fill="none"/>
<path d="M466.28,109.38 L471.72,114.82 M471.72,109.38 L466.28,114.82" stroke="#111" stroke-width="1" fill="none"/>
<path d="M508.78,90.26 L514.22,95.70 M514.22,90.26 L508.78,95.70" stroke="#111" stroke-width="1" fill="none"/>
<circle cx="435.00" cy="135.82" r="3.2" fill="#000"/>
<circle cx="443.50" cy="114.04" r="3.2" fill="#000"/>
<circle cx="469.00" cy="106.53" r="3.2" fill="#000"/>
<circle cx="511.50" cy="74.59" r="3.2" fill="#000"/>
<rect x="432.30" y="127.79" width="5.40" height="5.40" fill="#fff" stroke="#111" stroke-width="1"/>
<rect x="440.80" y="125.37" width="5.40" height="5.40" fill="#fff" stroke="#111" stroke-width="1"/>
<rect x="466.30" y="122.71" width="5.40" height="5.40" fill="#fff" stroke="#111" stroke-width="1"/>
<rect x="508.80" y="114.24" width="5.40" height="5.40" fill="#fff" stroke="#111" stroke-width="1"/>
<path d="M435.00,128.26 L438.04,133.86 L431.96,133.86 Z" fill="#fff" stroke="#111" stroke-width="0.9"/>
<path d="M443.50,123.66 L446.54,129.26 L440.46,129.26 Z" fill="#fff" stroke="#111" stroke-width="0.9"/>
<path d="M469.00,120.27 L472.04,125.87 L465.96,125.87 Z" fill="#fff" stroke="#111" stroke-width="0.9"/>
<path d="M511.50,121.48 L514.54,127.08 L508.46,127.08 Z" fill="#fff" stroke="#111" stroke-width="0.9"/>
<path d="M443.50,122.86 L447.01,129.34 L439.99,129.34 Z" fill="#fff" stroke="#111" stroke-width="0.9"/>
<path d="M506.70,107.70 L507.46,108.95 L508.89,109.29 L507.94,110.40 L508.05,111.86 L506.70,111.30 L505.35,111.86 L505.46,110.40 L504.51,109.29 L505.94,108.95ZM511.50,107.70 L512.26,108.95 L513.69,109.29 L512.74,110.40 L512.85,111.86 L511.50,111.30 L510.15,111.86 L510.26,110.40 L509.31,109.29 L510.74,108.95ZM516.30,107.70 L517.06,108.95 L518.49,109.29 L517.54,110.40 L517.65,111.86 L516.30,111.30 L514.95,111.86 L515.06,110.40 L514.11,109.29 L515.54,108.95Z" fill="#444"/>
<path d="M506.70,129.50 L507.46,130.75 L508.89,131.09 L507.94,132.20 L508.05,133.66 L506.70,133.10 L505.35,133.66 L505.46,132.20 L504.51,131.09 L505.94,130.75ZM511.50,129.50 L512.26,130.75 L513.69,131.09 L512.74,132.20 L512.85,133.66 L511.50,133.10 L510.15,133.66 L510.26,132.20 L509.31,131.09 L510.74,130.75ZM516.30,129.50 L517.06,130.75 L518.49,131.09 L517.54,132.20 L517.65,133.66 L516.30,133.10 L514.95,133.66 L515.06,132.20 L514.11,131.09 L515.54,130.75Z" fill="#444"/>
<path d="M469.00,114.20 L469.76,115.45 L471.19,115.79 L470.24,116.90 L470.35,118.36 L469.00,117.80 L467.65,118.36 L467.76,116.90 L466.81,115.79 L468.24,115.45Z" fill="#444"/>
<path d="M469.00,129.50 L469.76,130.75 L471.19,131.09 L470.24,132.20 L470.35,133.66 L469.00,133.10 L467.65,133.66 L467.76,132.20 L466.81,131.09 L468.24,130.75Z" fill="#444"/>
<circle cx="436.50" cy="44.90" r="2.8" fill="#000"/>
<text x="444.20" y="48.00" textLength="30.4" lengthAdjust="spacingAndGlyphs" style="font-family:'Liberation Serif',serif;font-weight:bold;font-size:9.3px" fill="#111" stroke="#111" stroke-width="0.55">Control</text>
<path d="M484.60,41.90 L487.45,47.15 L481.75,47.15 Z" fill="#fff" stroke="#111" stroke-width="0.9"/>
<text x="494.60" y="48.00" textLength="12.0" lengthAdjust="spacingAndGlyphs" style="font-family:'Liberation Serif',serif;font-weight:bold;font-size:9.3px" fill="#111" stroke="#111" stroke-width="0.55">CV</text>
<rect x="434.00" y="53.20" width="5.00" height="5.00" fill="#fff" stroke="#111" stroke-width="1"/>
<text x="444.20" y="58.50" textLength="11.2" lengthAdjust="spacingAndGlyphs" style="font-family:'Liberation Serif',serif;font-weight:bold;font-size:9.3px" fill="#111" stroke="#111" stroke-width="0.55">PC</text>
<path d="M482.05,53.15 L487.15,58.25 M487.15,53.15 L482.05,58.25" stroke="#111" stroke-width="1" fill="none"/>
<text x="494.60" y="58.50" textLength="11.6" lengthAdjust="spacingAndGlyphs" style="font-family:'Liberation Serif',serif;font-weight:bold;font-size:9.3px" fill="#111" stroke="#111" stroke-width="0.55">LY</text>
<line x1="40.50" y1="215.00" x2="40.50" y2="314.30" stroke="#404040" stroke-width="1"/>
<line x1="37.70" y1="313.90" x2="40.50" y2="313.90" stroke="#404040" stroke-width="1"/>
<text x="37.50" y="317.00" text-anchor="end" style="font-family:'Liberation Serif',serif;font-weight:bold;font-size:9.2px" fill="#111" stroke="#111" stroke-width="0.55">0</text>
<line x1="37.70" y1="289.17" x2="40.50" y2="289.17" stroke="#404040" stroke-width="1"/>
<text x="37.50" y="292.27" text-anchor="end" style="font-family:'Liberation Serif',serif;font-weight:bold;font-size:9.2px" fill="#111" stroke="#111" stroke-width="0.55">25</text>
<line x1="37.70" y1="264.45" x2="40.50" y2="264.45" stroke="#404040" stroke-width="1"/>
<text x="37.50" y="267.55" text-anchor="end" style="font-family:'Liberation Serif',serif;font-weight:bold;font-size:9.2px" fill="#111" stroke="#111" stroke-width="0.55">50</text>
<line x1="37.70" y1="239.72" x2="40.50" y2="239.72" stroke="#404040" stroke-width="1"/>
<text x="37.50" y="242.82" text-anchor="end" style="font-family:'Liberation Serif',serif;font-weight:bold;font-size:9.2px" fill="#111" stroke="#111" stroke-width="0.55">75</text>
<line x1="37.70" y1="215.00" x2="40.50" y2="215.00" stroke="#404040" stroke-width="1"/>
<text x="37.50" y="218.10" text-anchor="end" style="font-family:'Liberation Serif',serif;font-weight:bold;font-size:9.2px" fill="#111" stroke="#111" stroke-width="0.55">100</text>
<line x1="40.00" y1="313.80" x2="132.00" y2="313.80" stroke="#404040" stroke-width="1"/>
<line x1="40.50" y1="313.80" x2="40.50" y2="316.40" stroke="#404040" stroke-width="1"/>
<text x="40.50" y="325.40" text-anchor="middle" style="font-family:'Liberation Serif',serif;font-weight:bold;font-size:9.2px" fill="#111" stroke="#111" stroke-width="0.55">0</text>
<line x1="57.10" y1="313.80" x2="57.10" y2="316.40" stroke="#404040" stroke-width="1"/>
<text x="57.10" y="325.40" text-anchor="middle" style="font-family:'Liberation Serif',serif;font-weight:bold;font-size:9.2px" fill="#111" stroke="#111" stroke-width="0.55">1</text>
<line x1="73.70" y1="313.80" x2="73.70" y2="316.40" stroke="#404040" stroke-width="1"/>
<text x="73.70" y="325.40" text-anchor="middle" style="font-family:'Liberation Serif',serif;font-weight:bold;font-size:9.2px" fill="#111" stroke="#111" stroke-width="0.55">2</text>
<line x1="90.30" y1="313.80" x2="90.30" y2="316.40" stroke="#404040" stroke-width="1"/>
<text x="90.30" y="325.40" text-anchor="middle" style="font-family:'Liberation Serif',serif;font-weight:bold;font-size:9.2px" fill="#111" stroke="#111" stroke-width="0.55">3</text>
<line x1="106.90" y1="313.80" x2="106.90" y2="316.40" stroke="#404040" stroke-width="1"/>
<text x="106.90" y="325.40" text-anchor="middle" style="font-family:'Liberation Serif',serif;font-weight:bold;font-size:9.2px" fill="#111" stroke="#111" stroke-width="0.55">4</text>
<line x1="123.50" y1="313.80" x2="123.50" y2="316.40" stroke="#404040" stroke-width="1"/>
<text x="123.50" y="325.40" text-anchor="middle" style="font-family:'Liberation Serif',serif;font-weight:bold;font-size:9.2px" fill="#111" stroke="#111" stroke-width="0.55">5</text>
<text x="85.40" y="335.50" text-anchor="middle" textLength="44.3" lengthAdjust="spacingAndGlyphs" style="font-family:'Liberation Serif',serif;font-weight:bold;font-size:9.2px" fill="#111" stroke="#111" stroke-width="0.55">Time (min)</text>
<polyline points="48.80,244.37 57.10,228.85 73.70,234.29 90.30,229.64 123.50,225.58" fill="none" stroke="#303030" stroke-width="0.9"/>
<polyline points="48.80,265.44 57.10,265.44 73.70,257.72 90.30,251.40 123.50,256.54" fill="none" stroke="#303030" stroke-width="0.9"/>
<line x1="48.80" y1="244.37" x2="48.80" y2="234.29" stroke="#404040" stroke-width="0.95"/>
<line x1="46.60" y1="234.29" x2="51.00" y2="234.29" stroke="#404040" stroke-width="0.95"/>
<line x1="57.10" y1="228.85" x2="57.10" y2="218.56" stroke="#404040" stroke-width="0.95"/>
<line x1="54.90" y1="218.56" x2="59.30" y2="218.56" stroke="#404040" stroke-width="0.95"/>
<line x1="73.70" y1="234.29" x2="73.70" y2="229.83" stroke="#404040" stroke-width="0.95"/>
<line x1="71.50" y1="229.83" x2="75.90" y2="229.83" stroke="#404040" stroke-width="0.95"/>
<line x1="90.30" y1="229.64" x2="90.30" y2="223.90" stroke="#404040" stroke-width="0.95"/>
<line x1="88.10" y1="223.90" x2="92.50" y2="223.90" stroke="#404040" stroke-width="0.95"/>
<line x1="123.50" y1="225.58" x2="123.50" y2="220.24" stroke="#404040" stroke-width="0.95"/>
<line x1="121.30" y1="220.24" x2="125.70" y2="220.24" stroke="#404040" stroke-width="0.95"/>
<line x1="48.80" y1="265.44" x2="48.80" y2="276.52" stroke="#404040" stroke-width="0.95"/>
<line x1="46.60" y1="276.52" x2="51.00" y2="276.52" stroke="#404040" stroke-width="0.95"/>
<line x1="57.10" y1="265.44" x2="57.10" y2="276.52" stroke="#404040" stroke-width="0.95"/>
<line x1="54.90" y1="276.52" x2="59.30" y2="276.52" stroke="#404040" stroke-width="0.95"/>
<line x1="73.70" y1="257.72" x2="73.70" y2="264.85" stroke="#404040" stroke-width="0.95"/>
<line x1="71.50" y1="264.85" x2="75.90" y2="264.85" stroke="#404040" stroke-width="0.95"/>
<line x1="123.50" y1="256.54" x2="123.50" y2="262.47" stroke="#404040" stroke-width="0.95"/>
<line x1="121.30" y1="262.47" x2="125.70" y2="262.47" stroke="#404040" stroke-width="0.95"/>
<circle cx="48.80" cy="244.37" r="3.2" fill="#000"/>
<circle cx="57.10" cy="228.85" r="3.2" fill="#000"/>
<circle cx="73.70" cy="234.29" r="3.2" fill="#000"/>
<circle cx="90.30" cy="229.64" r="3.2" fill="#000"/>
<circle cx="123.50" cy="225.58" r="3.2" fill="#000"/>
<circle cx="48.80" cy="265.44" r="2.9" fill="#fff" stroke="#111" stroke-width="1"/>
<circle cx="57.10" cy="265.44" r="2.9" fill="#fff" stroke="#111" stroke-width="1"/>
<circle cx="73.70" cy="257.72" r="2.9" fill="#fff" stroke="#111" stroke-width="1"/>
<circle cx="90.30" cy="251.40" r="2.9" fill="#fff" stroke="#111" stroke-width="1"/>
<circle cx="123.50" cy="256.54" r="2.9" fill="#fff" stroke="#111" stroke-width="1"/>
<path d="M55.00,254.60 L55.76,255.85 L57.19,256.19 L56.24,257.30 L56.35,258.76 L55.00,258.20 L53.65,258.76 L53.76,257.30 L52.81,256.19 L54.24,255.85ZM59.80,254.60 L60.56,255.85 L61.99,256.19 L61.04,257.30 L61.15,258.76 L59.80,258.20 L58.45,258.76 L58.56,257.30 L57.61,256.19 L59.04,255.85Z" fill="#444"/>
<path d="M123.50,246.30 L124.26,247.55 L125.69,247.89 L124.74,249.00 L124.85,250.46 L123.50,249.90 L122.15,250.46 L122.26,249.00 L121.31,247.89 L122.74,247.55Z" fill="#444"/>
<circle cx="77.80" cy="292.50" r="3.0" fill="#000"/>
<text x="84.10" y="295.40" textLength="30.3" lengthAdjust="spacingAndGlyphs" style="font-family:'Liberation Serif',serif;font-weight:bold;font-size:9.3px" fill="#111" stroke="#111" stroke-width="0.55">Control</text>
<circle cx="77.80" cy="302.50" r="2.4" fill="#fff" stroke="#111" stroke-width="1"/>
<text x="84.10" y="305.50" textLength="39.9" lengthAdjust="spacingAndGlyphs" style="font-family:'Liberation Serif',serif;font-weight:bold;font-size:9.3px" fill="#111" stroke="#111" stroke-width="0.55">WEB2086</text>
<line x1="160.90" y1="214.60" x2="160.90" y2="314.00" stroke="#404040" stroke-width="1"/>
<line x1="158.10" y1="313.60" x2="160.90" y2="313.60" stroke="#404040" stroke-width="1"/>
<line x1="158.10" y1="288.85" x2="160.90" y2="288.85" stroke="#404040" stroke-width="1"/>
<line x1="158.10" y1="264.10" x2="160.90" y2="264.10" stroke="#404040" stroke-width="1"/>
<line x1="158.10" y1="239.35" x2="160.90" y2="239.35" stroke="#404040" stroke-width="1"/>
<line x1="158.10" y1="214.60" x2="160.90" y2="214.60" stroke="#404040" stroke-width="1"/>
<line x1="160.40" y1="313.50" x2="247.60" y2="313.50" stroke="#404040" stroke-width="1"/>
<line x1="160.90" y1="313.50" x2="160.90" y2="316.10" stroke="#404040" stroke-width="1"/>
<text x="160.90" y="325.40" text-anchor="middle" style="font-family:'Liberation Serif',serif;font-weight:bold;font-size:9.2px" fill="#111" stroke="#111" stroke-width="0.55">0</text>
<line x1="177.55" y1="313.50" x2="177.55" y2="316.10" stroke="#404040" stroke-width="1"/>
<text x="177.55" y="325.40" text-anchor="middle" style="font-family:'Liberation Serif',serif;font-weight:bold;font-size:9.2px" fill="#111" stroke="#111" stroke-width="0.55">1</text>
<line x1="194.20" y1="313.50" x2="194.20" y2="316.10" stroke="#404040" stroke-width="1"/>
<text x="194.20" y="325.40" text-anchor="middle" style="font-family:'Liberation Serif',serif;font-weight:bold;font-size:9.2px" fill="#111" stroke="#111" stroke-width="0.55">2</text>
<line x1="210.85" y1="313.50" x2="210.85" y2="316.10" stroke="#404040" stroke-width="1"/>
<text x="210.85" y="325.40" text-anchor="middle" style="font-family:'Liberation Serif',serif;font-weight:bold;font-size:9.2px" fill="#111" stroke="#111" stroke-width="0.55">3</text>
<line x1="227.50" y1="313.50" x2="227.50" y2="316.10" stroke="#404040" stroke-width="1"/>
<text x="227.50" y="325.40" text-anchor="middle" style="font-family:'Liberation Serif',serif;font-weight:bold;font-size:9.2px" fill="#111" stroke="#111" stroke-width="0.55">4</text>
<line x1="244.15" y1="313.50" x2="244.15" y2="316.10" stroke="#404040" stroke-width="1"/>
<text x="244.15" y="325.40" text-anchor="middle" style="font-family:'Liberation Serif',serif;font-weight:bold;font-size:9.2px" fill="#111" stroke="#111" stroke-width="0.55">5</text>
<text x="207.90" y="335.80" text-anchor="middle" textLength="44.3" lengthAdjust="spacingAndGlyphs" style="font-family:'Liberation Serif',serif;font-weight:bold;font-size:9.2px" fill="#111" stroke="#111" stroke-width="0.55">Time (min)</text>
<polyline points="169.22,244.30 177.55,241.83 202.53,231.43 244.15,226.48" fill="none" stroke="#303030" stroke-width="0.9"/>
<polyline points="169.22,239.35 177.55,228.46 202.53,229.95 244.15,224.50" fill="none" stroke="#303030" stroke-width="0.9"/>
<polyline points="169.22,263.11 177.55,264.10 202.53,258.16 244.15,257.67" fill="none" stroke="#303030" stroke-width="0.9"/>
<polyline points="169.22,263.11 177.55,264.10 202.53,258.66 244.15,258.16" fill="none" stroke="#303030" stroke-width="0.9"/>
<line x1="169.22" y1="239.35" x2="169.22" y2="232.92" stroke="#404040" stroke-width="0.95"/>
<line x1="167.03" y1="232.92" x2="171.42" y2="232.92" stroke="#404040" stroke-width="0.95"/>
<line x1="177.55" y1="228.46" x2="177.55" y2="221.53" stroke="#404040" stroke-width="0.95"/>
<line x1="175.35" y1="221.53" x2="179.75" y2="221.53" stroke="#404040" stroke-width="0.95"/>
<line x1="177.55" y1="228.46" x2="177.55" y2="234.90" stroke="#404040" stroke-width="0.95"/>
<line x1="175.35" y1="234.90" x2="179.75" y2="234.90" stroke="#404040" stroke-width="0.95"/>
<line x1="202.53" y1="229.95" x2="202.53" y2="223.51" stroke="#404040" stroke-width="0.95"/>
<line x1="200.33" y1="223.51" x2="204.72" y2="223.51" stroke="#404040" stroke-width="0.95"/>
<line x1="202.53" y1="229.95" x2="202.53" y2="236.38" stroke="#404040" stroke-width="0.95"/>
<line x1="200.33" y1="236.38" x2="204.72" y2="236.38" stroke="#404040" stroke-width="0.95"/>
<line x1="244.15" y1="224.50" x2="244.15" y2="217.08" stroke="#404040" stroke-width="0.95"/>
<line x1="241.95" y1="217.08" x2="246.35" y2="217.08" stroke="#404040" stroke-width="0.95"/>
<line x1="244.15" y1="224.50" x2="244.15" y2="232.42" stroke="#404040" stroke-width="0.95"/>
<line x1="241.95" y1="232.42" x2="246.35" y2="232.42" stroke="#404040" stroke-width="0.95"/>
<line x1="202.53" y1="231.43" x2="202.53" y2="236.38" stroke="#404040" stroke-width="0.95"/>
<line x1="200.33" y1="236.38" x2="204.72" y2="236.38" stroke="#404040" stroke-width="0.95"/>
<line x1="244.15" y1="226.48" x2="244.15" y2="231.43" stroke="#404040" stroke-width="0.95"/>
<line x1="241.95" y1="231.43" x2="246.35" y2="231.43" stroke="#404040" stroke-width="0.95"/>
<line x1="169.22" y1="244.30" x2="169.22" y2="248.26" stroke="#404040" stroke-width="0.95"/>
<line x1="167.03" y1="248.26" x2="171.42" y2="248.26" stroke="#404040" stroke-width="0.95"/>
<line x1="169.22" y1="263.11" x2="169.22" y2="268.06" stroke="#404040" stroke-width="0.95"/>
<line x1="167.03" y1="268.06" x2="171.42" y2="268.06" stroke="#404040" stroke-width="0.95"/>
<line x1="169.22" y1="263.11" x2="169.22" y2="258.16" stroke="#404040" stroke-width="0.95"/>
<line x1="167.03" y1="258.16" x2="171.42" y2="258.16" stroke="#404040" stroke-width="0.95"/>
<line x1="177.55" y1="264.10" x2="177.55" y2="269.05" stroke="#404040" stroke-width="0.95"/>
<line x1="175.35" y1="269.05" x2="179.75" y2="269.05" stroke="#404040" stroke-width="0.95"/>
<line x1="177.55" y1="264.10" x2="177.55" y2="259.65" stroke="#404040" stroke-width="0.95"/>
<line x1="175.35" y1="259.65" x2="179.75" y2="259.65" stroke="#404040" stroke-width="0.95"/>
<line x1="202.53" y1="258.16" x2="202.53" y2="253.21" stroke="#404040" stroke-width="0.95"/>
<line x1="200.33" y1="253.21" x2="204.72" y2="253.21" stroke="#404040" stroke-width="0.95"/>
<line x1="244.15" y1="257.67" x2="244.15" y2="252.72" stroke="#404040" stroke-width="0.95"/>
<line x1="241.95" y1="252.72" x2="246.35" y2="252.72" stroke="#404040" stroke-width="0.95"/>
<line x1="202.53" y1="258.66" x2="202.53" y2="263.61" stroke="#404040" stroke-width="0.95"/>
<line x1="200.33" y1="263.61" x2="204.72" y2="263.61" stroke="#404040" stroke-width="0.95"/>
<line x1="244.15" y1="258.16" x2="244.15" y2="263.11" stroke="#404040" stroke-width="0.95"/>
<line x1="241.95" y1="263.11" x2="246.35" y2="263.11" stroke="#404040" stroke-width="0.95"/>
<path d="M166.50,241.58 L171.94,247.02 M171.94,241.58 L166.50,247.02" stroke="#111" stroke-width="1" fill="none"/>
<path d="M174.83,239.11 L180.27,244.55 M180.27,239.11 L174.83,244.55" stroke="#111" stroke-width="1" fill="none"/>
<path d="M199.81,228.71 L205.25,234.15 M205.25,228.71 L199.81,234.15" stroke="#111" stroke-width="1" fill="none"/>
<path d="M241.43,223.76 L246.87,229.20 M246.87,223.76 L241.43,229.20" stroke="#111" stroke-width="1" fill="none"/>
<circle cx="169.22" cy="239.35" r="3.2" fill="#000"/>
<circle cx="177.55" cy="228.46" r="3.2" fill="#000"/>
<circle cx="202.53" cy="229.95" r="3.2" fill="#000"/>
<circle cx="244.15" cy="224.50" r="3.2" fill="#000"/>
<rect x="166.53" y="260.41" width="5.40" height="5.40" fill="#fff" stroke="#111" stroke-width="1"/>
<rect x="174.85" y="261.40" width="5.40" height="5.40" fill="#fff" stroke="#111" stroke-width="1"/>
<rect x="199.83" y="255.96" width="5.40" height="5.40" fill="#fff" stroke="#111" stroke-width="1"/>
<rect x="241.45" y="255.46" width="5.40" height="5.40" fill="#fff" stroke="#111" stroke-width="1"/>
<path d="M169.22,259.91 L172.26,265.51 L166.19,265.51 Z" fill="#fff" stroke="#111" stroke-width="0.9"/>
<path d="M177.55,260.90 L180.59,266.50 L174.51,266.50 Z" fill="#fff" stroke="#111" stroke-width="0.9"/>
<path d="M202.53,254.96 L205.56,260.56 L199.49,260.56 Z" fill="#fff" stroke="#111" stroke-width="0.9"/>
<path d="M244.15,254.47 L247.19,260.06 L241.11,260.06 Z" fill="#fff" stroke="#111" stroke-width="0.9"/>
<path d="M169.22,251.10 L169.99,252.35 L171.41,252.69 L170.46,253.80 L170.58,255.26 L169.22,254.70 L167.87,255.26 L167.99,253.80 L167.04,252.69 L168.46,252.35Z" fill="#444"/>
<path d="M175.15,252.20 L175.91,253.45 L177.34,253.79 L176.39,254.90 L176.50,256.36 L175.15,255.80 L173.80,256.36 L173.91,254.90 L172.96,253.79 L174.39,253.45ZM179.95,252.20 L180.71,253.45 L182.14,253.79 L181.19,254.90 L181.30,256.36 L179.95,255.80 L178.60,256.36 L178.71,254.90 L177.76,253.79 L179.19,253.45Z" fill="#444"/>
<path d="M200.12,248.80 L200.89,250.05 L202.31,250.39 L201.36,251.50 L201.48,252.96 L200.12,252.40 L198.77,252.96 L198.89,251.50 L197.94,250.39 L199.36,250.05ZM204.93,248.80 L205.69,250.05 L207.11,250.39 L206.16,251.50 L206.28,252.96 L204.93,252.40 L203.57,252.96 L203.69,251.50 L202.74,250.39 L204.16,250.05Z" fill="#444"/>
<path d="M200.12,265.20 L200.89,266.45 L202.31,266.79 L201.36,267.90 L201.48,269.36 L200.12,268.80 L198.77,269.36 L198.89,267.90 L197.94,266.79 L199.36,266.45ZM204.93,265.20 L205.69,266.45 L207.11,266.79 L206.16,267.90 L206.28,269.36 L204.93,268.80 L203.57,269.36 L203.69,267.90 L202.74,266.79 L204.16,266.45Z" fill="#444"/>
<path d="M241.75,246.40 L242.51,247.65 L243.94,247.99 L242.99,249.10 L243.10,250.56 L241.75,250.00 L240.40,250.56 L240.51,249.10 L239.56,247.99 L240.99,247.65ZM246.55,246.40 L247.31,247.65 L248.74,247.99 L247.79,249.10 L247.90,250.56 L246.55,250.00 L245.20,250.56 L245.31,249.10 L244.36,247.99 L245.79,247.65Z" fill="#444"/>
<path d="M241.75,266.10 L242.51,267.35 L243.94,267.69 L242.99,268.80 L243.10,270.26 L241.75,269.70 L240.40,270.26 L240.51,268.80 L239.56,267.69 L240.99,267.35ZM246.55,266.10 L247.31,267.35 L248.74,267.69 L247.79,268.80 L247.90,270.26 L246.55,269.70 L245.20,270.26 L245.31,268.80 L244.36,267.69 L245.79,267.35Z" fill="#444"/>
<path d="M169.22,269.20 L169.99,270.45 L171.41,270.79 L170.46,271.90 L170.58,273.36 L169.22,272.80 L167.87,273.36 L167.99,271.90 L167.04,270.79 L168.46,270.45Z" fill="#444"/>
<path d="M175.15,269.90 L175.91,271.15 L177.34,271.49 L176.39,272.60 L176.50,274.06 L175.15,273.50 L173.80,274.06 L173.91,272.60 L172.96,271.49 L174.39,271.15ZM179.95,269.90 L180.71,271.15 L182.14,271.49 L181.19,272.60 L181.30,274.06 L179.95,273.50 L178.60,274.06 L178.71,272.60 L177.76,271.49 L179.19,271.15Z" fill="#444"/>
<circle cx="168.50" cy="291.70" r="2.8" fill="#000"/>
<text x="175.10" y="294.80" textLength="30.0" lengthAdjust="spacingAndGlyphs" style="font-family:'Liberation Serif',serif;font-weight:bold;font-size:9.3px" fill="#111" stroke="#111" stroke-width="0.55">Control</text>
<path d="M216.60,288.70 L219.45,293.95 L213.75,293.95 Z" fill="#fff" stroke="#111" stroke-width="0.9"/>
<text x="225.80" y="294.80" textLength="12.4" lengthAdjust="spacingAndGlyphs" style="font-family:'Liberation Serif',serif;font-weight:bold;font-size:9.3px" fill="#111" stroke="#111" stroke-width="0.55">CV</text>
<rect x="166.00" y="299.50" width="5.00" height="5.00" fill="#fff" stroke="#111" stroke-width="1"/>
<text x="175.10" y="305.10" textLength="11.5" lengthAdjust="spacingAndGlyphs" style="font-family:'Liberation Serif',serif;font-weight:bold;font-size:9.3px" fill="#111" stroke="#111" stroke-width="0.55">PC</text>
<path d="M214.05,299.45 L219.15,304.55 M219.15,299.45 L214.05,304.55" stroke="#111" stroke-width="1" fill="none"/>
<text x="225.80" y="305.10" textLength="10.0" lengthAdjust="spacingAndGlyphs" style="font-family:'Liberation Serif',serif;font-weight:bold;font-size:9.3px" fill="#111" stroke="#111" stroke-width="0.55">LY</text>
<line x1="306.00" y1="216.30" x2="306.00" y2="315.80" stroke="#404040" stroke-width="1"/>
<line x1="303.20" y1="315.00" x2="306.00" y2="315.00" stroke="#404040" stroke-width="1"/>
<text x="303.00" y="318.10" text-anchor="end" style="font-family:'Liberation Serif',serif;font-weight:bold;font-size:9.2px" fill="#111" stroke="#111" stroke-width="0.55">0</text>
<line x1="303.20" y1="282.10" x2="306.00" y2="282.10" stroke="#404040" stroke-width="1"/>
<text x="303.00" y="285.20" text-anchor="end" style="font-family:'Liberation Serif',serif;font-weight:bold;font-size:9.2px" fill="#111" stroke="#111" stroke-width="0.55">25</text>
<line x1="303.20" y1="249.20" x2="306.00" y2="249.20" stroke="#404040" stroke-width="1"/>
<text x="303.00" y="252.30" text-anchor="end" style="font-family:'Liberation Serif',serif;font-weight:bold;font-size:9.2px" fill="#111" stroke="#111" stroke-width="0.55">50</text>
<line x1="303.20" y1="216.30" x2="306.00" y2="216.30" stroke="#404040" stroke-width="1"/>
<text x="303.00" y="219.40" text-anchor="end" style="font-family:'Liberation Serif',serif;font-weight:bold;font-size:9.2px" fill="#111" stroke="#111" stroke-width="0.55">75</text>
<line x1="305.50" y1="315.30" x2="397.00" y2="315.30" stroke="#404040" stroke-width="1"/>
<line x1="306.00" y1="315.30" x2="306.00" y2="317.90" stroke="#404040" stroke-width="1"/>
<text x="306.00" y="326.60" text-anchor="middle" style="font-family:'Liberation Serif',serif;font-weight:bold;font-size:9.2px" fill="#111" stroke="#111" stroke-width="0.55">0</text>
<line x1="322.50" y1="315.30" x2="322.50" y2="317.90" stroke="#404040" stroke-width="1"/>
<text x="322.50" y="326.60" text-anchor="middle" style="font-family:'Liberation Serif',serif;font-weight:bold;font-size:9.2px" fill="#111" stroke="#111" stroke-width="0.55">1</text>
<line x1="339.00" y1="315.30" x2="339.00" y2="317.90" stroke="#404040" stroke-width="1"/>
<text x="339.00" y="326.60" text-anchor="middle" style="font-family:'Liberation Serif',serif;font-weight:bold;font-size:9.2px" fill="#111" stroke="#111" stroke-width="0.55">2</text>
<line x1="355.50" y1="315.30" x2="355.50" y2="317.90" stroke="#404040" stroke-width="1"/>
<text x="355.50" y="326.60" text-anchor="middle" style="font-family:'Liberation Serif',serif;font-weight:bold;font-size:9.2px" fill="#111" stroke="#111" stroke-width="0.55">3</text>
<line x1="372.00" y1="315.30" x2="372.00" y2="317.90" stroke="#404040" stroke-width="1"/>
<text x="372.00" y="326.60" text-anchor="middle" style="font-family:'Liberation Serif',serif;font-weight:bold;font-size:9.2px" fill="#111" stroke="#111" stroke-width="0.55">4</text>
<line x1="388.50" y1="315.30" x2="388.50" y2="317.90" stroke="#404040" stroke-width="1"/>
<text x="388.50" y="326.60" text-anchor="middle" style="font-family:'Liberation Serif',serif;font-weight:bold;font-size:9.2px" fill="#111" stroke="#111" stroke-width="0.55">5</text>
<text x="350.90" y="336.60" text-anchor="middle" textLength="44.3" lengthAdjust="spacingAndGlyphs" style="font-family:'Liberation Serif',serif;font-weight:bold;font-size:9.2px" fill="#111" stroke="#111" stroke-width="0.55">Time (min)</text>
<polyline points="314.25,291.71 322.50,255.78 339.00,243.28 355.50,240.25 388.50,236.96" fill="none" stroke="#303030" stroke-width="0.9"/>
<polyline points="314.25,315.00 322.50,302.76 339.00,299.47 355.50,299.47 388.50,300.00" fill="none" stroke="#303030" stroke-width="0.9"/>
<line x1="314.25" y1="291.71" x2="314.25" y2="278.15" stroke="#404040" stroke-width="0.95"/>
<line x1="312.05" y1="278.15" x2="316.45" y2="278.15" stroke="#404040" stroke-width="0.95"/>
<line x1="314.25" y1="291.71" x2="314.25" y2="304.87" stroke="#404040" stroke-width="0.95"/>
<line x1="312.05" y1="304.87" x2="316.45" y2="304.87" stroke="#404040" stroke-width="0.95"/>
<line x1="322.50" y1="255.78" x2="322.50" y2="245.65" stroke="#404040" stroke-width="0.95"/>
<line x1="320.30" y1="245.65" x2="324.70" y2="245.65" stroke="#404040" stroke-width="0.95"/>
<line x1="322.50" y1="255.78" x2="322.50" y2="265.65" stroke="#404040" stroke-width="0.95"/>
<line x1="320.30" y1="265.65" x2="324.70" y2="265.65" stroke="#404040" stroke-width="0.95"/>
<line x1="339.00" y1="243.28" x2="339.00" y2="233.41" stroke="#404040" stroke-width="0.95"/>
<line x1="336.80" y1="233.41" x2="341.20" y2="233.41" stroke="#404040" stroke-width="0.95"/>
<line x1="339.00" y1="243.28" x2="339.00" y2="253.15" stroke="#404040" stroke-width="0.95"/>
<line x1="336.80" y1="253.15" x2="341.20" y2="253.15" stroke="#404040" stroke-width="0.95"/>
<line x1="355.50" y1="240.25" x2="355.50" y2="228.54" stroke="#404040" stroke-width="0.95"/>
<line x1="353.30" y1="228.54" x2="357.70" y2="228.54" stroke="#404040" stroke-width="0.95"/>
<line x1="355.50" y1="240.25" x2="355.50" y2="251.17" stroke="#404040" stroke-width="0.95"/>
<line x1="353.30" y1="251.17" x2="357.70" y2="251.17" stroke="#404040" stroke-width="0.95"/>
<line x1="388.50" y1="236.96" x2="388.50" y2="226.17" stroke="#404040" stroke-width="0.95"/>
<line x1="386.30" y1="226.17" x2="390.70" y2="226.17" stroke="#404040" stroke-width="0.95"/>
<line x1="388.50" y1="236.96" x2="388.50" y2="246.96" stroke="#404040" stroke-width="0.95"/>
<line x1="386.30" y1="246.96" x2="390.70" y2="246.96" stroke="#404040" stroke-width="0.95"/>
<line x1="322.50" y1="302.76" x2="322.50" y2="295.13" stroke="#404040" stroke-width="0.95"/>
<line x1="320.30" y1="295.13" x2="324.70" y2="295.13" stroke="#404040" stroke-width="0.95"/>
<line x1="322.50" y1="302.76" x2="322.50" y2="310.53" stroke="#404040" stroke-width="0.95"/>
<line x1="320.30" y1="310.53" x2="324.70" y2="310.53" stroke="#404040" stroke-width="0.95"/>
<line x1="339.00" y1="299.47" x2="339.00" y2="292.63" stroke="#404040" stroke-width="0.95"/>
<line x1="336.80" y1="292.63" x2="341.20" y2="292.63" stroke="#404040" stroke-width="0.95"/>
<line x1="339.00" y1="299.47" x2="339.00" y2="306.71" stroke="#404040" stroke-width="0.95"/>
<line x1="336.80" y1="306.71" x2="341.20" y2="306.71" stroke="#404040" stroke-width="0.95"/>
<line x1="355.50" y1="299.47" x2="355.50" y2="294.21" stroke="#404040" stroke-width="0.95"/>
<line x1="353.30" y1="294.21" x2="357.70" y2="294.21" stroke="#404040" stroke-width="0.95"/>
<line x1="355.50" y1="299.47" x2="355.50" y2="304.74" stroke="#404040" stroke-width="0.95"/>
<line x1="353.30" y1="304.74" x2="357.70" y2="304.74" stroke="#404040" stroke-width="0.95"/>
<line x1="388.50" y1="300.00" x2="388.50" y2="297.10" stroke="#404040" stroke-width="0.95"/>
<line x1="386.30" y1="297.10" x2="390.70" y2="297.10" stroke="#404040" stroke-width="0.95"/>
<line x1="388.50" y1="300.00" x2="388.50" y2="302.89" stroke="#404040" stroke-width="0.95"/>
<line x1="386.30" y1="302.89" x2="390.70" y2="302.89" stroke="#404040" stroke-width="0.95"/>
<circle cx="314.25" cy="291.71" r="3.2" fill="#000"/>
<circle cx="322.50" cy="255.78" r="3.2" fill="#000"/>
<circle cx="339.00" cy="243.28" r="3.2" fill="#000"/>
<circle cx="355.50" cy="240.25" r="3.2" fill="#000"/>
<circle cx="388.50" cy="236.96" r="3.2" fill="#000"/>
<circle cx="314.25" cy="315.00" r="3.0" fill="#fff" stroke="#111" stroke-width="1"/>
<circle cx="322.50" cy="302.76" r="3.0" fill="#fff" stroke="#111" stroke-width="1"/>
<circle cx="339.00" cy="299.47" r="3.0" fill="#fff" stroke="#111" stroke-width="1"/>
<circle cx="355.50" cy="299.47" r="3.0" fill="#fff" stroke="#111" stroke-width="1"/>
<circle cx="388.50" cy="300.00" r="3.0" fill="#fff" stroke="#111" stroke-width="1"/>
<path d="M320.20,288.10 L320.96,289.35 L322.39,289.69 L321.44,290.80 L321.55,292.26 L320.20,291.70 L318.85,292.26 L318.96,290.80 L318.01,289.69 L319.44,289.35ZM324.80,288.10 L325.56,289.35 L326.99,289.69 L326.04,290.80 L326.15,292.26 L324.80,291.70 L323.45,292.26 L323.56,290.80 L322.61,289.69 L324.04,289.35Z" fill="#444"/>
<path d="M334.40,286.30 L335.16,287.55 L336.59,287.89 L335.64,289.00 L335.75,290.46 L334.40,289.90 L333.05,290.46 L333.16,289.00 L332.21,287.89 L333.64,287.55ZM339.00,286.30 L339.76,287.55 L341.19,287.89 L340.24,289.00 L340.35,290.46 L339.00,289.90 L337.65,290.46 L337.76,289.00 L336.81,287.89 L338.24,287.55ZM343.60,286.30 L344.36,287.55 L345.79,287.89 L344.84,289.00 L344.95,290.46 L343.60,289.90 L342.25,290.46 L342.36,289.00 L341.41,287.89 L342.84,287.55Z" fill="#444"/>
<path d="M350.90,287.50 L351.66,288.75 L353.09,289.09 L352.14,290.20 L352.25,291.66 L350.90,291.10 L349.55,291.66 L349.66,290.20 L348.71,289.09 L350.14,288.75ZM355.50,287.50 L356.26,288.75 L357.69,289.09 L356.74,290.20 L356.85,291.66 L355.50,291.10 L354.15,291.66 L354.26,290.20 L353.31,289.09 L354.74,288.75ZM360.10,287.50 L360.86,288.75 L362.29,289.09 L361.34,290.20 L361.45,291.66 L360.10,291.10 L358.75,291.66 L358.86,290.20 L357.91,289.09 L359.34,288.75Z" fill="#444"/>
<path d="M383.90,289.90 L384.66,291.15 L386.09,291.49 L385.14,292.60 L385.25,294.06 L383.90,293.50 L382.55,294.06 L382.66,292.60 L381.71,291.49 L383.14,291.15ZM388.50,289.90 L389.26,291.15 L390.69,291.49 L389.74,292.60 L389.85,294.06 L388.50,293.50 L387.15,294.06 L387.26,292.60 L386.31,291.49 L387.74,291.15ZM393.10,289.90 L393.86,291.15 L395.29,291.49 L394.34,292.60 L394.45,294.06 L393.10,293.50 L391.75,294.06 L391.86,292.60 L390.91,291.49 L392.34,291.15Z" fill="#444"/>
<circle cx="312.50" cy="211.70" r="2.9000000000000004" fill="#000"/>
<text x="318.60" y="214.50" textLength="30.8" lengthAdjust="spacingAndGlyphs" style="font-family:'Liberation Serif',serif;font-weight:bold;font-size:9.3px" fill="#111" stroke="#111" stroke-width="0.55">Control</text>
<circle cx="312.50" cy="222.00" r="2.3000000000000003" fill="#fff" stroke="#111" stroke-width="1"/>
<text x="318.60" y="224.90" textLength="40.4" lengthAdjust="spacingAndGlyphs" style="font-family:'Liberation Serif',serif;font-weight:bold;font-size:9.3px" fill="#111" stroke="#111" stroke-width="0.55">WEB2086</text>
<line x1="427.30" y1="216.88" x2="427.30" y2="315.20" stroke="#404040" stroke-width="1"/>
<line x1="424.50" y1="314.60" x2="427.30" y2="314.60" stroke="#404040" stroke-width="1"/>
<text x="423.10" y="317.70" text-anchor="end" style="font-family:'Liberation Serif',serif;font-weight:bold;font-size:9.2px" fill="#111" stroke="#111" stroke-width="0.55">0</text>
<line x1="424.50" y1="282.03" x2="427.30" y2="282.03" stroke="#404040" stroke-width="1"/>
<text x="423.10" y="285.13" text-anchor="end" style="font-family:'Liberation Serif',serif;font-weight:bold;font-size:9.2px" fill="#111" stroke="#111" stroke-width="0.55">25</text>
<line x1="424.50" y1="249.45" x2="427.30" y2="249.45" stroke="#404040" stroke-width="1"/>
<text x="423.10" y="252.55" text-anchor="end" style="font-family:'Liberation Serif',serif;font-weight:bold;font-size:9.2px" fill="#111" stroke="#111" stroke-width="0.55">50</text>
<line x1="424.50" y1="216.88" x2="427.30" y2="216.88" stroke="#404040" stroke-width="1"/>
<text x="423.10" y="219.98" text-anchor="end" style="font-family:'Liberation Serif',serif;font-weight:bold;font-size:9.2px" fill="#111" stroke="#111" stroke-width="0.55">75</text>
<line x1="426.80" y1="314.70" x2="511.70" y2="314.70" stroke="#404040" stroke-width="1"/>
<line x1="427.30" y1="314.70" x2="427.30" y2="317.30" stroke="#404040" stroke-width="1"/>
<text x="427.30" y="325.80" text-anchor="middle" style="font-family:'Liberation Serif',serif;font-weight:bold;font-size:9.2px" fill="#111" stroke="#111" stroke-width="0.55">0</text>
<line x1="443.63" y1="314.70" x2="443.63" y2="317.30" stroke="#404040" stroke-width="1"/>
<text x="443.63" y="325.80" text-anchor="middle" style="font-family:'Liberation Serif',serif;font-weight:bold;font-size:9.2px" fill="#111" stroke="#111" stroke-width="0.55">1</text>
<line x1="459.96" y1="314.70" x2="459.96" y2="317.30" stroke="#404040" stroke-width="1"/>
<text x="459.96" y="325.80" text-anchor="middle" style="font-family:'Liberation Serif',serif;font-weight:bold;font-size:9.2px" fill="#111" stroke="#111" stroke-width="0.55">2</text>
<line x1="476.29" y1="314.70" x2="476.29" y2="317.30" stroke="#404040" stroke-width="1"/>
<text x="476.29" y="325.80" text-anchor="middle" style="font-family:'Liberation Serif',serif;font-weight:bold;font-size:9.2px" fill="#111" stroke="#111" stroke-width="0.55">3</text>
<line x1="492.62" y1="314.70" x2="492.62" y2="317.30" stroke="#404040" stroke-width="1"/>
<text x="492.62" y="325.80" text-anchor="middle" style="font-family:'Liberation Serif',serif;font-weight:bold;font-size:9.2px" fill="#111" stroke="#111" stroke-width="0.55">4</text>
<line x1="508.95" y1="314.70" x2="508.95" y2="317.30" stroke="#404040" stroke-width="1"/>
<text x="508.95" y="325.80" text-anchor="middle" style="font-family:'Liberation Serif',serif;font-weight:bold;font-size:9.2px" fill="#111" stroke="#111" stroke-width="0.55">5</text>
<text x="472.90" y="336.60" text-anchor="middle" textLength="44.3" lengthAdjust="spacingAndGlyphs" style="font-family:'Liberation Serif',serif;font-weight:bold;font-size:9.2px" fill="#111" stroke="#111" stroke-width="0.55">Time (min)</text>
<polyline points="435.47,300.79 443.63,282.68 468.12,262.48 508.95,256.62" fill="none" stroke="#303030" stroke-width="0.9"/>
<polyline points="435.47,298.70 443.63,262.48 468.12,249.45 508.95,245.93" fill="none" stroke="#303030" stroke-width="0.9"/>
<polyline points="435.47,313.30 443.63,303.52 468.12,302.09 508.95,301.31" fill="none" stroke="#303030" stroke-width="0.9"/>
<polyline points="435.47,313.30 443.63,303.52 468.12,302.09 508.95,301.31" fill="none" stroke="#303030" stroke-width="0.9"/>
<line x1="443.63" y1="262.48" x2="443.63" y2="257.92" stroke="#404040" stroke-width="0.95"/>
<line x1="441.43" y1="257.92" x2="445.83" y2="257.92" stroke="#404040" stroke-width="0.95"/>
<line x1="468.12" y1="249.45" x2="468.12" y2="245.54" stroke="#404040" stroke-width="0.95"/>
<line x1="465.93" y1="245.54" x2="470.32" y2="245.54" stroke="#404040" stroke-width="0.95"/>
<line x1="468.12" y1="249.45" x2="468.12" y2="253.36" stroke="#404040" stroke-width="0.95"/>
<line x1="465.93" y1="253.36" x2="470.32" y2="253.36" stroke="#404040" stroke-width="0.95"/>
<line x1="508.95" y1="245.93" x2="508.95" y2="241.37" stroke="#404040" stroke-width="0.95"/>
<line x1="506.75" y1="241.37" x2="511.15" y2="241.37" stroke="#404040" stroke-width="0.95"/>
<line x1="508.95" y1="245.93" x2="508.95" y2="250.49" stroke="#404040" stroke-width="0.95"/>
<line x1="506.75" y1="250.49" x2="511.15" y2="250.49" stroke="#404040" stroke-width="0.95"/>
<line x1="443.63" y1="282.68" x2="443.63" y2="278.77" stroke="#404040" stroke-width="0.95"/>
<line x1="441.43" y1="278.77" x2="445.83" y2="278.77" stroke="#404040" stroke-width="0.95"/>
<line x1="468.12" y1="262.48" x2="468.12" y2="259.22" stroke="#404040" stroke-width="0.95"/>
<line x1="465.93" y1="259.22" x2="470.32" y2="259.22" stroke="#404040" stroke-width="0.95"/>
<line x1="508.95" y1="256.62" x2="508.95" y2="252.71" stroke="#404040" stroke-width="0.95"/>
<line x1="506.75" y1="252.71" x2="511.15" y2="252.71" stroke="#404040" stroke-width="0.95"/>
<line x1="508.95" y1="256.62" x2="508.95" y2="260.53" stroke="#404040" stroke-width="0.95"/>
<line x1="506.75" y1="260.53" x2="511.15" y2="260.53" stroke="#404040" stroke-width="0.95"/>
<line x1="435.47" y1="298.70" x2="435.47" y2="294.79" stroke="#404040" stroke-width="0.95"/>
<line x1="433.27" y1="294.79" x2="437.67" y2="294.79" stroke="#404040" stroke-width="0.95"/>
<path d="M432.75,298.07 L438.19,303.51 M438.19,298.07 L432.75,303.51" stroke="#111" stroke-width="1" fill="none"/>
<path d="M440.91,279.96 L446.35,285.40 M446.35,279.96 L440.91,285.40" stroke="#111" stroke-width="1" fill="none"/>
<path d="M465.40,259.76 L470.85,265.20 M470.85,259.76 L465.40,265.20" stroke="#111" stroke-width="1" fill="none"/>
<path d="M506.23,253.90 L511.67,259.34 M511.67,253.90 L506.23,259.34" stroke="#111" stroke-width="1" fill="none"/>
<circle cx="435.47" cy="298.70" r="3.2" fill="#000"/>
<circle cx="443.63" cy="262.48" r="3.2" fill="#000"/>
<circle cx="468.12" cy="249.45" r="3.2" fill="#000"/>
<circle cx="508.95" cy="245.93" r="3.2" fill="#000"/>
<rect x="432.77" y="310.60" width="5.40" height="5.40" fill="#fff" stroke="#111" stroke-width="1"/>
<rect x="440.93" y="300.82" width="5.40" height="5.40" fill="#fff" stroke="#111" stroke-width="1"/>
<rect x="465.43" y="299.39" width="5.40" height="5.40" fill="#fff" stroke="#111" stroke-width="1"/>
<rect x="506.25" y="298.61" width="5.40" height="5.40" fill="#fff" stroke="#111" stroke-width="1"/>
<path d="M435.47,310.10 L438.51,315.70 L432.43,315.70 Z" fill="#fff" stroke="#111" stroke-width="0.9"/>
<path d="M443.63,300.32 L446.67,305.92 L440.59,305.92 Z" fill="#fff" stroke="#111" stroke-width="0.9"/>
<path d="M468.12,298.89 L471.17,304.49 L465.08,304.49 Z" fill="#fff" stroke="#111" stroke-width="0.9"/>
<path d="M508.95,298.11 L511.99,303.71 L505.91,303.71 Z" fill="#fff" stroke="#111" stroke-width="0.9"/>
<path d="M440.00,294.40 L440.76,295.65 L442.19,295.99 L441.24,297.10 L441.35,298.56 L440.00,298.00 L438.65,298.56 L438.76,297.10 L437.81,295.99 L439.24,295.65ZM444.40,294.40 L445.16,295.65 L446.59,295.99 L445.64,297.10 L445.75,298.56 L444.40,298.00 L443.05,298.56 L443.16,297.10 L442.21,295.99 L443.64,295.65ZM448.80,294.40 L449.56,295.65 L450.99,295.99 L450.04,297.10 L450.15,298.56 L448.80,298.00 L447.45,298.56 L447.56,297.10 L446.61,295.99 L448.04,295.65Z" fill="#444"/>
<path d="M440.00,307.40 L440.76,308.65 L442.19,308.99 L441.24,310.10 L441.35,311.56 L440.00,311.00 L438.65,311.56 L438.76,310.10 L437.81,308.99 L439.24,308.65ZM444.40,307.40 L445.16,308.65 L446.59,308.99 L445.64,310.10 L445.75,311.56 L444.40,311.00 L443.05,311.56 L443.16,310.10 L442.21,308.99 L443.64,308.65ZM448.80,307.40 L449.56,308.65 L450.99,308.99 L450.04,310.10 L450.15,311.56 L448.80,311.00 L447.45,311.56 L447.56,310.10 L446.61,308.99 L448.04,308.65Z" fill="#444"/>
<path d="M463.32,292.80 L464.09,294.05 L465.51,294.39 L464.56,295.50 L464.68,296.96 L463.32,296.40 L461.97,296.96 L462.09,295.50 L461.14,294.39 L462.56,294.05ZM468.12,292.80 L468.89,294.05 L470.31,294.39 L469.36,295.50 L469.48,296.96 L468.12,296.40 L466.77,296.96 L466.89,295.50 L465.94,294.39 L467.36,294.05ZM472.93,292.80 L473.69,294.05 L475.11,294.39 L474.16,295.50 L474.28,296.96 L472.93,296.40 L471.57,296.96 L471.69,295.50 L470.74,294.39 L472.16,294.05Z" fill="#444"/>
<path d="M463.32,307.20 L464.09,308.45 L465.51,308.79 L464.56,309.90 L464.68,311.36 L463.32,310.80 L461.97,311.36 L462.09,309.90 L461.14,308.79 L462.56,308.45ZM468.12,307.20 L468.89,308.45 L470.31,308.79 L469.36,309.90 L469.48,311.36 L468.12,310.80 L466.77,311.36 L466.89,309.90 L465.94,308.79 L467.36,308.45ZM472.93,307.20 L473.69,308.45 L475.11,308.79 L474.16,309.90 L474.28,311.36 L472.93,310.80 L471.57,311.36 L471.69,309.90 L470.74,308.79 L472.16,308.45Z" fill="#444"/>
<path d="M504.15,292.80 L504.91,294.05 L506.34,294.39 L505.39,295.50 L505.50,296.96 L504.15,296.40 L502.80,296.96 L502.91,295.50 L501.96,294.39 L503.39,294.05ZM508.95,292.80 L509.71,294.05 L511.14,294.39 L510.19,295.50 L510.30,296.96 L508.95,296.40 L507.60,296.96 L507.71,295.50 L506.76,294.39 L508.19,294.05ZM513.75,292.80 L514.51,294.05 L515.94,294.39 L514.99,295.50 L515.10,296.96 L513.75,296.40 L512.40,296.96 L512.51,295.50 L511.56,294.39 L512.99,294.05Z" fill="#444"/>
<path d="M504.15,306.10 L504.91,307.35 L506.34,307.69 L505.39,308.80 L505.50,310.26 L504.15,309.70 L502.80,310.26 L502.91,308.80 L501.96,307.69 L503.39,307.35ZM508.95,306.10 L509.71,307.35 L511.14,307.69 L510.19,308.80 L510.30,310.26 L508.95,309.70 L507.60,310.26 L507.71,308.80 L506.76,307.69 L508.19,307.35ZM513.75,306.10 L514.51,307.35 L515.94,307.69 L514.99,308.80 L515.10,310.26 L513.75,309.70 L512.40,310.26 L512.51,308.80 L511.56,307.69 L512.99,307.35Z" fill="#444"/>
<circle cx="439.70" cy="223.90" r="2.8" fill="#000"/>
<text x="447.40" y="227.00" textLength="30.0" lengthAdjust="spacingAndGlyphs" style="font-family:'Liberation Serif',serif;font-weight:bold;font-size:9.3px" fill="#111" stroke="#111" stroke-width="0.55">Control</text>
<path d="M487.40,220.90 L490.25,226.15 L484.55,226.15 Z" fill="#fff" stroke="#111" stroke-width="0.9"/>
<text x="497.40" y="227.00" textLength="11.5" lengthAdjust="spacingAndGlyphs" style="font-family:'Liberation Serif',serif;font-weight:bold;font-size:9.3px" fill="#111" stroke="#111" stroke-width="0.55">CV</text>
<rect x="437.20" y="232.00" width="5.00" height="5.00" fill="#fff" stroke="#111" stroke-width="1"/>
<text x="447.40" y="237.30" textLength="11.1" lengthAdjust="spacingAndGlyphs" style="font-family:'Liberation Serif',serif;font-weight:bold;font-size:9.3px" fill="#111" stroke="#111" stroke-width="0.55">PC</text>
<path d="M484.85,231.95 L489.95,237.05 M489.95,231.95 L484.85,237.05" stroke="#111" stroke-width="1" fill="none"/>
<text x="497.40" y="237.30" textLength="10.8" lengthAdjust="spacingAndGlyphs" style="font-family:'Liberation Serif',serif;font-weight:bold;font-size:9.3px" fill="#111" stroke="#111" stroke-width="0.55">LY</text>
</svg>
</body></html>
